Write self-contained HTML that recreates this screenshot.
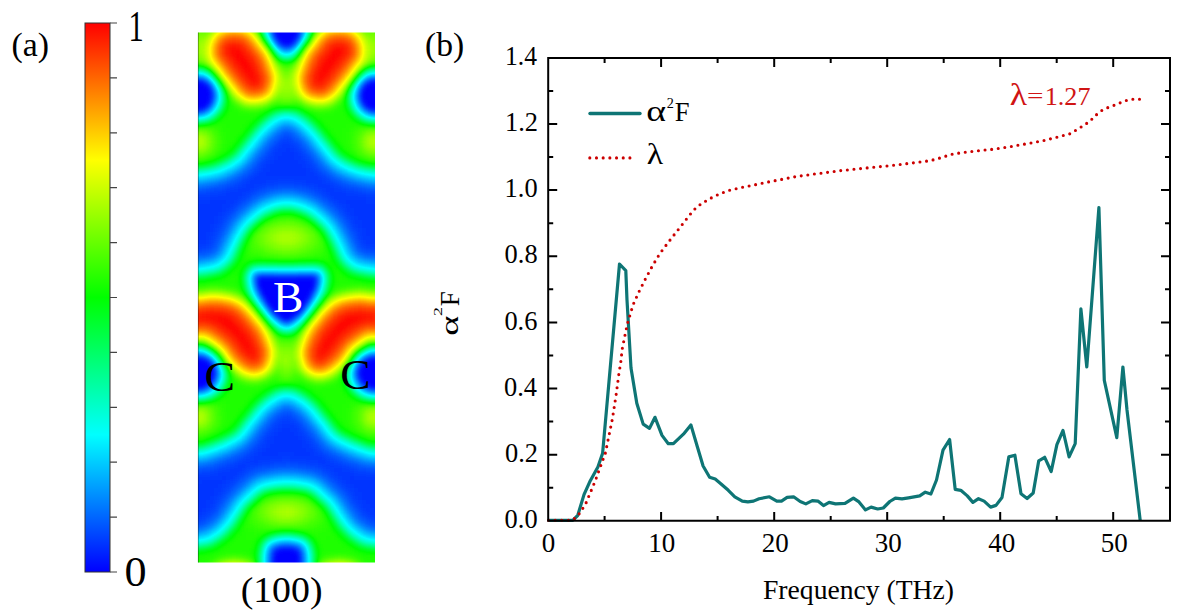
<!DOCTYPE html>
<html><head><meta charset="utf-8"><style>
html,body{margin:0;padding:0;background:#fff;overflow:hidden;}
svg{display:block;}
text{font-family:"Liberation Serif",serif;fill:#000;}
</style></head><body>
<svg width="1179" height="616" viewBox="0 0 1179 616">
<defs>
<linearGradient id="cb" x1="0" y1="1" x2="0" y2="0">
<stop offset="0" stop-color="#0000ff"/><stop offset="0.25" stop-color="#00ffff"/><stop offset="0.5" stop-color="#00ff00"/><stop offset="0.75" stop-color="#ffff00"/><stop offset="1" stop-color="#ff0000"/>
</linearGradient>
<filter id="hb" x="180" y="15" width="215" height="565" filterUnits="userSpaceOnUse" color-interpolation-filters="sRGB"><feGaussianBlur stdDeviation="2"/><feComponentTransfer><feFuncR type="table" tableValues="0 0 0 1 1"/><feFuncG type="table" tableValues="0 1 1 1 0"/><feFuncB type="table" tableValues="1 1 0 0 0"/></feComponentTransfer></filter>
<clipPath id="hc"><rect x="198" y="32.5" width="177" height="530"/></clipPath>
</defs>
<rect width="1179" height="616" fill="#fff"/>
<rect x="85" y="23" width="25" height="549" fill="url(#cb)" stroke="#333" stroke-width="1"/>
<path d="M110,23.0h7M110,77.9h7M110,132.8h7M110,187.7h7M110,242.6h7M110,297.5h7M110,352.4h7M110,407.3h7M110,462.2h7M110,517.1h7M110,572.0h7" stroke="#444" stroke-width="1.2" fill="none"/>
<g clip-path="url(#hc)"><g filter="url(#hb)" shape-rendering="crispEdges"><path fill="#000000" d="M278 24h20v4h-20zM278 28h20v4h-20zM278 32h20v4h-20zM278 36h16v4h-16zM282 40h8v4h-8zM190 84h16v4h-16zM366 84h16v4h-16zM190 88h20v4h-20zM366 88h20v4h-20zM190 92h20v4h-20zM362 92h24v4h-24zM190 96h20v4h-20zM362 96h24v4h-24zM190 100h20v4h-20zM366 100h20v4h-20zM190 104h16v4h-16zM366 104h16v4h-16zM258 280h56v4h-56zM262 284h52v4h-52zM262 288h48v4h-48zM262 292h48v4h-48zM266 296h40v4h-40zM270 300h36v4h-36zM270 304h32v4h-32zM274 308h24v4h-24zM278 312h16v4h-16zM282 316h8v4h-8zM190 360h16v4h-16zM366 360h16v4h-16zM190 364h20v4h-20zM362 364h24v4h-24zM190 368h24v4h-24zM362 368h24v4h-24zM190 372h24v4h-24zM362 372h24v4h-24zM190 376h20v4h-20zM362 376h24v4h-24zM190 380h20v4h-20zM366 380h20v4h-20zM194 384h8v4h-8zM370 384h8v4h-8zM278 552h20v4h-20zM274 556h24v4h-24zM274 560h24v4h-24zM274 564h24v4h-24zM274 568h24v4h-24z"/><path fill="#010101" d="M258 284h4v4h-4zM362 380h4v4h-4zM378 384h4v4h-4z"/><path fill="#020202" d="M274 28h4v4h-4zM290 40h4v4h-4zM362 88h4v4h-4zM266 300h4v4h-4zM382 360h4v4h-4zM210 376h4v4h-4zM282 548h8v4h-8zM274 552h4v4h-4z"/><path fill="#030303" d="M198 80h4v4h-4zM374 80h4v4h-4zM382 84h4v4h-4zM362 100h4v4h-4zM262 276h12v4h-12zM298 276h12v4h-12zM310 288h4v4h-4zM306 296h4v4h-4zM294 312h4v4h-4zM358 372h4v4h-4zM202 384h4v4h-4zM290 548h4v4h-4z"/><path fill="#040404" d="M274 24h4v4h-4zM274 32h4v4h-4zM194 80h4v4h-4zM274 276h24v4h-24zM310 276h4v4h-4zM298 308h4v4h-4zM190 384h4v4h-4zM278 548h4v4h-4z"/><path fill="#050505" d="M370 80h4v4h-4zM258 276h4v4h-4zM358 368h4v4h-4z"/><path fill="#060606" d="M294 36h4v4h-4zM278 40h4v4h-4zM382 104h4v4h-4zM206 360h4v4h-4zM366 384h4v4h-4z"/><path fill="#070707" d="M206 84h4v4h-4zM198 108h4v4h-4zM374 108h4v4h-4z"/><path fill="#080808" d="M378 80h4v4h-4zM194 108h4v4h-4zM302 304h4v4h-4zM274 312h4v4h-4zM290 316h4v4h-4zM374 356h4v4h-4zM210 364h4v4h-4zM358 376h4v4h-4zM294 548h4v4h-4zM298 568h4v4h-4z"/><path fill="#090909" d="M370 108h4v4h-4zM258 288h4v4h-4zM194 356h8v4h-8zM298 560h4v4h-4zM298 564h4v4h-4z"/><path fill="#0a0a0a" d="M286 44h4v4h-4zM210 92h4v4h-4zM206 104h4v4h-4zM262 296h4v4h-4zM270 308h4v4h-4zM370 356h4v4h-4zM362 360h4v4h-4zM382 384h4v4h-4zM274 548h4v4h-4zM298 556h4v4h-4z"/><path fill="#0b0b0b" d="M202 80h4v4h-4zM210 96h4v4h-4z"/><path fill="#0c0c0c" d="M274 36h4v4h-4zM282 44h4v4h-4zM190 80h4v4h-4zM378 108h4v4h-4zM314 280h4v4h-4zM298 552h4v4h-4z"/><path fill="#0d0d0d" d="M362 84h4v4h-4zM286 148h4v4h-4zM282 152h12v4h-12zM278 156h16v4h-16zM274 160h24v4h-24zM270 164h32v4h-32zM270 168h36v4h-36zM266 172h40v4h-40zM210 200h16v4h-16zM346 200h20v4h-20zM190 204h32v4h-32zM350 204h36v4h-36zM190 208h32v4h-32zM354 208h32v4h-32zM190 212h28v4h-28zM354 212h32v4h-32zM190 216h24v4h-24zM358 216h28v4h-28zM190 220h24v4h-24zM362 220h24v4h-24zM190 224h20v4h-20zM362 224h24v4h-24zM190 228h20v4h-20zM366 228h20v4h-20zM190 232h16v4h-16zM366 232h20v4h-20zM190 236h16v4h-16zM370 236h16v4h-16zM382 240h4v4h-4zM278 316h4v4h-4zM378 356h4v4h-4zM210 380h4v4h-4zM282 428h8v4h-8zM278 432h16v4h-16zM274 436h24v4h-24zM274 440h28v4h-28zM270 444h32v4h-32zM266 448h40v4h-40zM262 452h16v4h-16zM294 452h16v4h-16zM222 476h4v4h-4zM350 476h4v4h-4zM190 480h8v4h-8zM202 480h20v4h-20zM350 480h24v4h-24zM378 480h8v4h-8zM190 484h28v4h-28zM354 484h32v4h-32zM190 488h24v4h-24zM358 488h28v4h-28zM190 492h24v4h-24zM362 492h24v4h-24zM190 496h20v4h-20zM362 496h24v4h-24zM190 500h16v4h-16zM366 500h20v4h-20zM190 504h16v4h-16zM370 504h16v4h-16zM190 508h12v4h-12zM374 508h12v4h-12z"/><path fill="#0e0e0e" d="M282 144h8v4h-8zM278 148h8v4h-8zM290 148h4v4h-4zM274 152h8v4h-8zM294 152h4v4h-4zM274 156h4v4h-4zM294 156h8v4h-8zM270 160h4v4h-4zM298 160h8v4h-8zM266 164h4v4h-4zM302 164h4v4h-4zM262 168h8v4h-8zM306 168h4v4h-4zM258 172h8v4h-8zM306 172h8v4h-8zM254 176h64v4h-64zM250 180h16v4h-16zM306 180h16v4h-16zM246 184h8v4h-8zM318 184h12v4h-12zM238 188h12v4h-12zM326 188h8v4h-8zM226 192h16v4h-16zM330 192h16v4h-16zM210 196h28v4h-28zM334 196h32v4h-32zM382 196h4v4h-4zM190 200h20v4h-20zM226 200h8v4h-8zM338 200h8v4h-8zM366 200h20v4h-20zM222 204h8v4h-8zM346 204h4v4h-4zM222 208h4v4h-4zM346 208h8v4h-8zM218 212h4v4h-4zM350 212h4v4h-4zM214 216h4v4h-4zM354 216h4v4h-4zM214 220h4v4h-4zM354 220h8v4h-8zM210 224h4v4h-4zM358 224h4v4h-4zM210 228h4v4h-4zM362 228h4v4h-4zM206 232h4v4h-4zM362 232h4v4h-4zM206 236h4v4h-4zM362 236h8v4h-8zM190 240h16v4h-16zM366 240h16v4h-16zM190 244h4v4h-4zM382 244h4v4h-4zM314 276h4v4h-4zM310 292h4v4h-4zM206 384h4v4h-4zM282 424h12v4h-12zM278 428h4v4h-4zM290 428h8v4h-8zM274 432h4v4h-4zM294 432h4v4h-4zM270 436h4v4h-4zM298 436h4v4h-4zM266 440h8v4h-8zM302 440h4v4h-4zM266 444h4v4h-4zM302 444h8v4h-8zM262 448h4v4h-4zM306 448h8v4h-8zM258 452h4v4h-4zM278 452h16v4h-16zM310 452h4v4h-4zM254 456h28v4h-28zM290 456h32v4h-32zM246 460h12v4h-12zM318 460h8v4h-8zM238 464h8v4h-8zM326 464h8v4h-8zM230 468h12v4h-12zM334 468h8v4h-8zM218 472h20v4h-20zM338 472h16v4h-16zM190 476h32v4h-32zM226 476h8v4h-8zM342 476h8v4h-8zM354 476h32v4h-32zM198 480h4v4h-4zM222 480h4v4h-4zM346 480h4v4h-4zM374 480h4v4h-4zM218 484h4v4h-4zM350 484h4v4h-4zM214 488h8v4h-8zM354 488h4v4h-4zM214 492h4v4h-4zM354 492h8v4h-8zM210 496h4v4h-4zM358 496h4v4h-4zM206 500h8v4h-8zM362 500h4v4h-4zM206 504h4v4h-4zM362 504h8v4h-8zM202 508h4v4h-4zM366 508h8v4h-8zM190 512h12v4h-12zM370 512h16v4h-16zM382 516h4v4h-4zM270 564h4v4h-4zM270 568h4v4h-4z"/><path fill="#0f0f0f" d="M366 80h4v4h-4zM362 104h4v4h-4zM202 108h4v4h-4zM282 140h8v4h-8zM278 144h4v4h-4zM290 144h4v4h-4zM274 148h4v4h-4zM294 148h4v4h-4zM298 152h4v4h-4zM270 156h4v4h-4zM266 160h4v4h-4zM262 164h4v4h-4zM306 164h4v4h-4zM310 168h4v4h-4zM314 172h4v4h-4zM250 176h4v4h-4zM318 176h4v4h-4zM246 180h4v4h-4zM266 180h12v4h-12zM294 180h12v4h-12zM322 180h4v4h-4zM242 184h4v4h-4zM254 184h8v4h-8zM314 184h4v4h-4zM330 184h4v4h-4zM230 188h8v4h-8zM250 188h4v4h-4zM322 188h4v4h-4zM334 188h8v4h-8zM218 192h8v4h-8zM242 192h4v4h-4zM326 192h4v4h-4zM346 192h12v4h-12zM190 196h20v4h-20zM238 196h4v4h-4zM330 196h4v4h-4zM366 196h16v4h-16zM234 200h4v4h-4zM230 204h4v4h-4zM342 204h4v4h-4zM226 208h4v4h-4zM222 212h4v4h-4zM346 212h4v4h-4zM218 216h4v4h-4zM350 216h4v4h-4zM218 220h4v4h-4zM214 224h4v4h-4zM354 224h4v4h-4zM358 228h4v4h-4zM210 232h4v4h-4zM358 232h4v4h-4zM206 240h4v4h-4zM362 240h4v4h-4zM194 244h12v4h-12zM366 244h16v4h-16zM202 356h4v4h-4zM358 364h4v4h-4zM282 420h8v4h-8zM278 424h4v4h-4zM294 424h4v4h-4zM274 428h4v4h-4zM270 432h4v4h-4zM298 432h4v4h-4zM266 436h4v4h-4zM302 436h4v4h-4zM306 440h4v4h-4zM262 444h4v4h-4zM258 448h4v4h-4zM254 452h4v4h-4zM314 452h4v4h-4zM250 456h4v4h-4zM282 456h8v4h-8zM322 456h4v4h-4zM242 460h4v4h-4zM258 460h12v4h-12zM306 460h12v4h-12zM326 460h4v4h-4zM234 464h4v4h-4zM246 464h4v4h-4zM322 464h4v4h-4zM334 464h8v4h-8zM222 468h8v4h-8zM242 468h4v4h-4zM330 468h4v4h-4zM342 468h8v4h-8zM210 472h8v4h-8zM334 472h4v4h-4zM354 472h12v4h-12zM338 476h4v4h-4zM226 480h4v4h-4zM342 480h4v4h-4zM222 484h4v4h-4zM346 484h4v4h-4zM350 488h4v4h-4zM218 492h4v4h-4zM214 496h4v4h-4zM354 496h4v4h-4zM358 500h4v4h-4zM210 504h4v4h-4zM206 508h4v4h-4zM362 508h4v4h-4zM202 512h4v4h-4zM366 512h4v4h-4zM190 516h8v4h-8zM374 516h8v4h-8zM270 560h4v4h-4z"/><path fill="#101010" d="M298 28h4v4h-4zM210 88h4v4h-4zM190 108h4v4h-4zM294 144h4v4h-4zM270 152h4v4h-4zM266 156h4v4h-4zM302 156h4v4h-4zM262 160h4v4h-4zM306 160h4v4h-4zM310 164h4v4h-4zM258 168h4v4h-4zM254 172h4v4h-4zM322 176h4v4h-4zM242 180h4v4h-4zM278 180h16v4h-16zM326 180h4v4h-4zM238 184h4v4h-4zM262 184h4v4h-4zM306 184h8v4h-8zM334 184h4v4h-4zM226 188h4v4h-4zM254 188h4v4h-4zM318 188h4v4h-4zM342 188h4v4h-4zM210 192h8v4h-8zM246 192h4v4h-4zM322 192h4v4h-4zM358 192h8v4h-8zM382 192h4v4h-4zM242 196h4v4h-4zM334 200h4v4h-4zM338 204h4v4h-4zM342 208h4v4h-4zM222 216h4v4h-4zM350 220h4v4h-4zM214 228h4v4h-4zM354 228h4v4h-4zM210 236h4v4h-4zM358 236h4v4h-4zM206 244h4v4h-4zM362 244h4v4h-4zM190 248h4v4h-4zM382 248h4v4h-4zM266 304h4v4h-4zM190 356h4v4h-4zM286 416h4v4h-4zM278 420h4v4h-4zM290 420h4v4h-4zM274 424h4v4h-4zM270 428h4v4h-4zM298 428h4v4h-4zM302 432h4v4h-4zM262 440h4v4h-4zM258 444h4v4h-4zM310 444h4v4h-4zM254 448h4v4h-4zM314 448h4v4h-4zM250 452h4v4h-4zM318 452h4v4h-4zM246 456h4v4h-4zM238 460h4v4h-4zM270 460h12v4h-12zM290 460h16v4h-16zM330 460h4v4h-4zM230 464h4v4h-4zM250 464h8v4h-8zM318 464h4v4h-4zM342 464h4v4h-4zM218 468h4v4h-4zM326 468h4v4h-4zM350 468h4v4h-4zM190 472h20v4h-20zM238 472h4v4h-4zM330 472h4v4h-4zM366 472h20v4h-20zM234 476h4v4h-4zM334 476h4v4h-4zM230 480h4v4h-4zM338 480h4v4h-4zM226 484h4v4h-4zM342 484h4v4h-4zM222 488h4v4h-4zM346 488h4v4h-4zM350 492h4v4h-4zM214 500h4v4h-4zM354 500h4v4h-4zM358 504h4v4h-4zM210 508h4v4h-4zM206 512h4v4h-4zM198 516h4v4h-4zM370 516h4v4h-4zM382 520h4v4h-4zM270 556h4v4h-4z"/><path fill="#111111" d="M286 136h4v4h-4zM278 140h4v4h-4zM290 140h4v4h-4zM274 144h4v4h-4zM270 148h4v4h-4zM298 148h4v4h-4zM302 152h4v4h-4zM258 164h4v4h-4zM314 168h4v4h-4zM318 172h4v4h-4zM246 176h4v4h-4zM330 180h4v4h-4zM234 184h4v4h-4zM266 184h8v4h-8zM302 184h4v4h-4zM338 184h4v4h-4zM222 188h4v4h-4zM314 188h4v4h-4zM346 188h8v4h-8zM190 192h20v4h-20zM366 192h16v4h-16zM326 196h4v4h-4zM238 200h4v4h-4zM330 200h4v4h-4zM234 204h4v4h-4zM230 208h4v4h-4zM226 212h4v4h-4zM342 212h4v4h-4zM346 216h4v4h-4zM218 224h4v4h-4zM350 224h4v4h-4zM214 232h4v4h-4zM210 240h4v4h-4zM358 240h4v4h-4zM194 248h8v4h-8zM370 248h12v4h-12zM314 284h4v4h-4zM306 300h4v4h-4zM282 416h4v4h-4zM294 420h4v4h-4zM298 424h4v4h-4zM266 432h4v4h-4zM262 436h4v4h-4zM306 436h4v4h-4zM310 440h4v4h-4zM322 452h4v4h-4zM242 456h4v4h-4zM326 456h4v4h-4zM234 460h4v4h-4zM282 460h8v4h-8zM334 460h4v4h-4zM226 464h4v4h-4zM258 464h4v4h-4zM310 464h8v4h-8zM346 464h4v4h-4zM214 468h4v4h-4zM246 468h4v4h-4zM322 468h4v4h-4zM354 468h4v4h-4zM242 472h4v4h-4zM222 492h4v4h-4zM218 496h4v4h-4zM350 496h4v4h-4zM214 504h4v4h-4zM358 508h4v4h-4zM362 512h4v4h-4zM202 516h4v4h-4zM366 516h4v4h-4zM190 520h8v4h-8zM378 520h4v4h-4z"/><path fill="#121212" d="M294 40h4v4h-4zM358 92h4v4h-4zM358 96h4v4h-4zM210 100h4v4h-4zM282 136h4v4h-4zM266 152h4v4h-4zM306 156h4v4h-4zM310 160h4v4h-4zM254 168h4v4h-4zM250 172h4v4h-4zM326 176h4v4h-4zM238 180h4v4h-4zM230 184h4v4h-4zM274 184h4v4h-4zM294 184h8v4h-8zM214 188h8v4h-8zM258 188h4v4h-4zM310 188h4v4h-4zM354 188h4v4h-4zM250 192h4v4h-4zM318 192h4v4h-4zM246 196h4v4h-4zM334 204h4v4h-4zM338 208h4v4h-4zM222 220h4v4h-4zM218 228h4v4h-4zM354 232h4v4h-4zM214 236h4v4h-4zM210 244h4v4h-4zM202 248h4v4h-4zM366 248h4v4h-4zM366 356h4v4h-4zM278 416h4v4h-4zM290 416h4v4h-4zM274 420h4v4h-4zM270 424h4v4h-4zM302 428h4v4h-4zM258 440h4v4h-4zM314 444h4v4h-4zM318 448h4v4h-4zM246 452h4v4h-4zM330 456h4v4h-4zM338 460h4v4h-4zM222 464h4v4h-4zM262 464h8v4h-8zM306 464h4v4h-4zM210 468h4v4h-4zM250 468h4v4h-4zM358 468h8v4h-8zM326 472h4v4h-4zM238 476h4v4h-4zM330 476h4v4h-4zM234 480h4v4h-4zM230 484h4v4h-4zM226 488h4v4h-4zM346 492h4v4h-4zM218 500h4v4h-4zM354 504h4v4h-4zM198 520h4v4h-4zM374 520h4v4h-4zM270 552h4v4h-4z"/><path fill="#131313" d="M298 24h4v4h-4zM298 32h4v4h-4zM290 44h4v4h-4zM366 108h4v4h-4zM290 136h4v4h-4zM294 140h4v4h-4zM298 144h4v4h-4zM262 156h4v4h-4zM258 160h4v4h-4zM314 164h4v4h-4zM322 172h4v4h-4zM242 176h4v4h-4zM334 180h4v4h-4zM226 184h4v4h-4zM278 184h16v4h-16zM342 184h4v4h-4zM210 188h4v4h-4zM262 188h4v4h-4zM358 188h4v4h-4zM322 196h4v4h-4zM242 200h4v4h-4zM230 212h4v4h-4zM226 216h4v4h-4zM346 220h4v4h-4zM350 228h4v4h-4zM354 236h4v4h-4zM358 244h4v4h-4zM206 248h4v4h-4zM362 248h4v4h-4zM382 252h4v4h-4zM214 372h4v4h-4zM362 384h4v4h-4zM198 388h4v4h-4zM374 388h4v4h-4zM286 412h4v4h-4zM266 428h4v4h-4zM306 432h4v4h-4zM310 436h4v4h-4zM254 444h4v4h-4zM250 448h4v4h-4zM238 456h4v4h-4zM230 460h4v4h-4zM218 464h4v4h-4zM270 464h4v4h-4zM298 464h8v4h-8zM350 464h4v4h-4zM190 468h4v4h-4zM202 468h8v4h-8zM318 468h4v4h-4zM366 468h4v4h-4zM382 468h4v4h-4zM334 480h4v4h-4zM338 484h4v4h-4zM342 488h4v4h-4zM350 500h4v4h-4zM214 508h4v4h-4zM210 512h4v4h-4zM206 516h4v4h-4zM370 520h4v4h-4z"/><path fill="#141414" d="M278 136h4v4h-4zM274 140h4v4h-4zM270 144h4v4h-4zM302 148h4v4h-4zM306 152h4v4h-4zM254 164h4v4h-4zM318 168h4v4h-4zM246 172h4v4h-4zM234 180h4v4h-4zM346 184h4v4h-4zM206 188h4v4h-4zM306 188h4v4h-4zM362 188h4v4h-4zM382 188h4v4h-4zM254 192h4v4h-4zM314 192h4v4h-4zM326 200h4v4h-4zM238 204h4v4h-4zM234 208h4v4h-4zM342 216h4v4h-4zM222 224h4v4h-4zM218 232h4v4h-4zM214 240h4v4h-4zM190 252h4v4h-4zM378 252h4v4h-4zM286 320h4v4h-4zM358 380h4v4h-4zM194 388h4v4h-4zM282 412h4v4h-4zM294 416h4v4h-4zM298 420h4v4h-4zM262 432h4v4h-4zM314 440h4v4h-4zM326 452h4v4h-4zM334 456h4v4h-4zM226 460h4v4h-4zM342 460h4v4h-4zM274 464h12v4h-12zM290 464h8v4h-8zM354 464h4v4h-4zM194 468h8v4h-8zM254 468h4v4h-4zM314 468h4v4h-4zM370 468h12v4h-12zM246 472h4v4h-4zM322 472h4v4h-4zM242 476h4v4h-4zM226 492h4v4h-4zM222 496h4v4h-4zM358 512h4v4h-4zM362 516h4v4h-4zM202 520h4v4h-4zM382 524h4v4h-4zM282 544h8v4h-8zM298 548h4v4h-4z"/><path fill="#151515" d="M382 80h4v4h-4zM282 132h8v4h-8zM266 148h4v4h-4zM310 156h4v4h-4zM250 168h4v4h-4zM330 176h4v4h-4zM338 180h4v4h-4zM222 184h4v4h-4zM190 188h4v4h-4zM202 188h4v4h-4zM266 188h4v4h-4zM302 188h4v4h-4zM366 188h4v4h-4zM378 188h4v4h-4zM250 196h4v4h-4zM330 204h4v4h-4zM334 208h4v4h-4zM338 212h4v4h-4zM346 224h4v4h-4zM354 240h4v4h-4zM210 248h4v4h-4zM194 252h4v4h-4zM374 252h4v4h-4zM254 276h4v4h-4zM254 280h4v4h-4zM258 292h4v4h-4zM370 388h4v4h-4zM290 412h4v4h-4zM274 416h4v4h-4zM270 420h4v4h-4zM302 424h4v4h-4zM258 436h4v4h-4zM318 444h4v4h-4zM322 448h4v4h-4zM242 452h4v4h-4zM234 456h4v4h-4zM214 464h4v4h-4zM286 464h4v4h-4zM258 468h4v4h-4zM326 476h4v4h-4zM238 480h4v4h-4zM234 484h4v4h-4zM230 488h4v4h-4zM346 496h4v4h-4zM218 504h4v4h-4zM354 508h4v4h-4zM366 520h4v4h-4zM190 524h4v4h-4zM378 524h4v4h-4z"/><path fill="#161616" d="M298 140h4v4h-4zM262 152h4v4h-4zM314 160h4v4h-4zM326 172h4v4h-4zM238 176h4v4h-4zM230 180h4v4h-4zM218 184h4v4h-4zM350 184h4v4h-4zM194 188h8v4h-8zM270 188h4v4h-4zM298 188h4v4h-4zM370 188h8v4h-8zM258 192h4v4h-4zM318 196h4v4h-4zM246 200h4v4h-4zM226 220h4v4h-4zM222 228h4v4h-4zM350 232h4v4h-4zM218 236h4v4h-4zM214 244h4v4h-4zM358 248h4v4h-4zM198 252h8v4h-8zM370 252h4v4h-4zM298 312h4v4h-4zM214 368h4v4h-4zM278 412h4v4h-4zM266 424h4v4h-4zM306 428h4v4h-4zM254 440h4v4h-4zM250 444h4v4h-4zM246 448h4v4h-4zM330 452h4v4h-4zM338 456h4v4h-4zM222 460h4v4h-4zM346 460h4v4h-4zM358 464h4v4h-4zM262 468h4v4h-4zM310 468h4v4h-4zM250 472h4v4h-4zM330 480h4v4h-4zM334 484h4v4h-4zM338 488h4v4h-4zM342 492h4v4h-4zM222 500h4v4h-4zM350 504h4v4h-4zM214 512h4v4h-4zM210 516h4v4h-4zM194 524h4v4h-4zM374 524h4v4h-4zM290 544h4v4h-4z"/><path fill="#171717" d="M290 132h4v4h-4zM294 136h4v4h-4zM302 144h4v4h-4zM258 156h4v4h-4zM318 164h4v4h-4zM322 168h4v4h-4zM354 184h4v4h-4zM274 188h4v4h-4zM310 192h4v4h-4zM242 204h4v4h-4zM230 216h4v4h-4zM342 220h4v4h-4zM366 252h4v4h-4zM282 320h4v4h-4zM382 356h4v4h-4zM210 360h4v4h-4zM262 428h4v4h-4zM310 432h4v4h-4zM238 452h4v4h-4zM230 456h4v4h-4zM210 464h4v4h-4zM306 468h4v4h-4zM318 472h4v4h-4zM358 516h4v4h-4zM206 520h4v4h-4zM198 524h4v4h-4zM370 524h4v4h-4zM278 544h4v4h-4z"/><path fill="#181818" d="M270 28h4v4h-4zM278 44h4v4h-4zM274 136h4v4h-4zM270 140h4v4h-4zM306 148h4v4h-4zM254 160h4v4h-4zM242 172h4v4h-4zM334 176h4v4h-4zM342 180h4v4h-4zM214 184h4v4h-4zM278 188h4v4h-4zM294 188h4v4h-4zM262 192h4v4h-4zM322 200h4v4h-4zM238 208h4v4h-4zM234 212h4v4h-4zM346 228h4v4h-4zM350 236h4v4h-4zM354 244h4v4h-4zM206 252h4v4h-4zM362 252h4v4h-4zM378 388h4v4h-4zM286 408h4v4h-4zM298 416h4v4h-4zM258 432h4v4h-4zM314 436h4v4h-4zM350 460h4v4h-4zM206 464h4v4h-4zM362 464h4v4h-4zM382 464h4v4h-4zM266 468h4v4h-4zM302 468h4v4h-4zM246 476h4v4h-4zM226 496h4v4h-4zM346 500h4v4h-4zM218 508h4v4h-4zM354 512h4v4h-4zM362 520h4v4h-4z"/><path fill="#191919" d="M274 40h4v4h-4zM358 88h4v4h-4zM382 108h4v4h-4zM278 132h4v4h-4zM266 144h4v4h-4zM310 152h4v4h-4zM250 164h4v4h-4zM246 168h4v4h-4zM234 176h4v4h-4zM226 180h4v4h-4zM210 184h4v4h-4zM358 184h4v4h-4zM282 188h12v4h-12zM306 192h4v4h-4zM254 196h4v4h-4zM326 204h4v4h-4zM330 208h4v4h-4zM334 212h4v4h-4zM338 216h4v4h-4zM226 224h4v4h-4zM218 240h4v4h-4zM214 248h4v4h-4zM382 256h4v4h-4zM262 300h4v4h-4zM294 316h4v4h-4zM214 376h4v4h-4zM282 408h4v4h-4zM294 412h4v4h-4zM302 420h4v4h-4zM318 440h4v4h-4zM326 448h4v4h-4zM342 456h4v4h-4zM218 460h4v4h-4zM190 464h4v4h-4zM202 464h4v4h-4zM366 464h4v4h-4zM270 468h4v4h-4zM298 468h4v4h-4zM254 472h4v4h-4zM242 480h4v4h-4zM238 484h4v4h-4zM230 492h4v4h-4zM202 524h4v4h-4zM270 548h4v4h-4z"/><path fill="#1a1a1a" d="M270 24h4v4h-4zM206 80h4v4h-4zM358 100h4v4h-4zM262 148h4v4h-4zM362 184h4v4h-4zM382 184h4v4h-4zM314 196h4v4h-4zM222 232h4v4h-4zM210 252h4v4h-4zM302 308h4v4h-4zM202 388h4v4h-4zM270 416h4v4h-4zM306 424h4v4h-4zM254 436h4v4h-4zM322 444h4v4h-4zM242 448h4v4h-4zM334 452h4v4h-4zM226 456h4v4h-4zM354 460h4v4h-4zM370 464h4v4h-4zM378 464h4v4h-4zM274 468h4v4h-4zM294 468h4v4h-4zM314 472h4v4h-4zM322 476h4v4h-4zM234 488h4v4h-4zM342 496h4v4h-4zM222 504h4v4h-4zM350 508h4v4h-4zM366 524h4v4h-4z"/><path fill="#1b1b1b" d="M270 32h4v4h-4zM282 128h8v4h-8zM258 152h4v4h-4zM314 156h4v4h-4zM330 172h4v4h-4zM346 180h4v4h-4zM206 184h4v4h-4zM266 192h4v4h-4zM250 200h4v4h-4zM230 220h4v4h-4zM342 224h4v4h-4zM354 248h4v4h-4zM190 256h4v4h-4zM378 256h4v4h-4zM254 284h4v4h-4zM314 288h4v4h-4zM310 296h4v4h-4zM190 388h4v4h-4zM290 408h4v4h-4zM274 412h4v4h-4zM266 420h4v4h-4zM310 428h4v4h-4zM250 440h4v4h-4zM246 444h4v4h-4zM234 452h4v4h-4zM214 460h4v4h-4zM194 464h8v4h-8zM374 464h4v4h-4zM278 468h16v4h-16zM326 480h4v4h-4zM330 484h4v4h-4zM334 488h4v4h-4zM338 492h4v4h-4zM214 516h4v4h-4zM210 520h4v4h-4zM382 528h4v4h-4zM294 544h4v4h-4z"/><path fill="#1c1c1c" d="M298 36h4v4h-4zM374 76h4v4h-4zM294 132h4v4h-4zM298 136h4v4h-4zM302 140h4v4h-4zM318 160h4v4h-4zM326 168h4v4h-4zM238 172h4v4h-4zM338 176h4v4h-4zM222 180h4v4h-4zM190 184h4v4h-4zM202 184h4v4h-4zM366 184h4v4h-4zM378 184h4v4h-4zM302 192h4v4h-4zM258 196h4v4h-4zM318 200h4v4h-4zM246 204h4v4h-4zM346 232h4v4h-4zM350 240h4v4h-4zM358 252h4v4h-4zM194 256h4v4h-4zM206 356h4v4h-4zM354 372h4v4h-4zM262 424h4v4h-4zM346 456h4v4h-4zM258 472h4v4h-4zM346 504h4v4h-4zM218 512h4v4h-4zM190 528h4v4h-4z"/><path fill="#1d1d1d" d="M194 76h8v4h-8zM210 84h4v4h-4zM206 108h4v4h-4zM306 144h4v4h-4zM254 156h4v4h-4zM322 164h4v4h-4zM230 176h4v4h-4zM350 180h4v4h-4zM194 184h8v4h-8zM370 184h4v4h-4zM242 208h4v4h-4zM234 216h4v4h-4zM226 228h4v4h-4zM222 236h4v4h-4zM218 244h4v4h-4zM198 256h4v4h-4zM370 256h8v4h-8zM270 312h4v4h-4zM278 408h4v4h-4zM258 428h4v4h-4zM314 432h4v4h-4zM330 448h4v4h-4zM338 452h4v4h-4zM222 456h4v4h-4zM358 460h4v4h-4zM310 472h4v4h-4zM250 476h4v4h-4zM226 500h4v4h-4zM354 516h4v4h-4zM358 520h4v4h-4zM206 524h4v4h-4zM378 528h4v4h-4z"/><path fill="#1e1e1e" d="M370 76h4v4h-4zM290 128h4v4h-4zM274 132h4v4h-4zM270 136h4v4h-4zM266 140h4v4h-4zM242 168h4v4h-4zM218 180h4v4h-4zM374 184h4v4h-4zM270 192h4v4h-4zM298 192h4v4h-4zM310 196h4v4h-4zM322 204h4v4h-4zM238 212h4v4h-4zM338 220h4v4h-4zM202 256h4v4h-4zM366 388h4v4h-4zM302 416h4v4h-4zM210 460h4v4h-4zM262 472h4v4h-4zM318 476h4v4h-4zM194 528h4v4h-4zM374 528h4v4h-4zM274 544h4v4h-4z"/><path fill="#1f1f1f" d="M210 104h4v4h-4zM310 148h4v4h-4zM250 160h4v4h-4zM246 164h4v4h-4zM326 208h4v4h-4zM334 216h4v4h-4zM350 244h4v4h-4zM214 252h4v4h-4zM366 256h4v4h-4zM262 272h12v4h-12zM298 272h16v4h-16zM274 316h4v4h-4zM358 360h4v4h-4zM354 368h4v4h-4zM210 384h4v4h-4zM298 412h4v4h-4zM254 432h4v4h-4zM318 436h4v4h-4zM238 448h4v4h-4zM230 452h4v4h-4zM306 472h4v4h-4zM246 480h4v4h-4zM242 484h4v4h-4zM230 496h4v4h-4zM342 500h4v4h-4zM222 508h4v4h-4zM350 512h4v4h-4zM362 524h4v4h-4zM198 528h4v4h-4zM302 564h4v4h-4zM302 568h4v4h-4z"/><path fill="#202020" d="M362 80h4v4h-4zM278 128h4v4h-4zM262 144h4v4h-4zM314 152h4v4h-4zM334 172h4v4h-4zM342 176h4v4h-4zM354 180h4v4h-4zM274 192h4v4h-4zM294 192h4v4h-4zM262 196h4v4h-4zM254 200h4v4h-4zM330 212h4v4h-4zM342 228h4v4h-4zM346 236h4v4h-4zM206 256h4v4h-4zM258 272h4v4h-4zM274 272h4v4h-4zM286 404h4v4h-4zM294 408h4v4h-4zM306 420h4v4h-4zM322 440h4v4h-4zM326 444h4v4h-4zM350 456h4v4h-4zM362 460h4v4h-4zM266 472h4v4h-4zM238 488h4v4h-4zM234 492h4v4h-4zM370 528h4v4h-4zM302 560h4v4h-4z"/><path fill="#212121" d="M378 76h4v4h-4zM258 148h4v4h-4zM234 172h4v4h-4zM226 176h4v4h-4zM214 180h4v4h-4zM230 224h4v4h-4zM218 248h4v4h-4zM362 256h4v4h-4zM278 272h20v4h-20zM290 320h4v4h-4zM362 356h4v4h-4zM214 364h4v4h-4zM354 376h4v4h-4zM282 404h4v4h-4zM270 412h4v4h-4zM266 416h4v4h-4zM310 424h4v4h-4zM250 436h4v4h-4zM342 452h4v4h-4zM218 456h4v4h-4zM206 460h4v4h-4zM382 460h4v4h-4zM302 472h4v4h-4zM322 480h4v4h-4zM326 484h4v4h-4zM302 556h4v4h-4z"/><path fill="#222222" d="M286 48h4v4h-4zM198 112h4v4h-4zM374 112h4v4h-4zM318 156h4v4h-4zM358 180h4v4h-4zM278 192h4v4h-4zM290 192h4v4h-4zM306 196h4v4h-4zM314 200h4v4h-4zM226 232h4v4h-4zM222 240h4v4h-4zM354 252h4v4h-4zM306 304h4v4h-4zM266 308h4v4h-4zM274 408h4v4h-4zM262 420h4v4h-4zM242 444h4v4h-4zM334 448h4v4h-4zM366 460h4v4h-4zM270 472h4v4h-4zM254 476h4v4h-4zM330 488h4v4h-4zM338 496h4v4h-4zM226 504h4v4h-4zM346 508h4v4h-4zM214 520h4v4h-4zM202 528h4v4h-4z"/><path fill="#232323" d="M362 108h4v4h-4zM194 112h4v4h-4zM298 132h4v4h-4zM302 136h4v4h-4zM254 152h4v4h-4zM330 168h4v4h-4zM210 180h4v4h-4zM282 192h8v4h-8zM250 204h4v4h-4zM338 224h4v4h-4zM210 256h4v4h-4zM382 260h4v4h-4zM314 272h4v4h-4zM382 388h4v4h-4zM314 428h4v4h-4zM246 440h4v4h-4zM226 452h4v4h-4zM190 460h4v4h-4zM202 460h4v4h-4zM298 472h4v4h-4zM314 476h4v4h-4zM334 492h4v4h-4zM218 516h4v4h-4zM210 524h4v4h-4zM366 528h4v4h-4zM302 552h4v4h-4z"/><path fill="#242424" d="M282 48h4v4h-4zM202 76h4v4h-4zM370 112h4v4h-4zM286 124h4v4h-4zM294 128h4v4h-4zM306 140h4v4h-4zM322 160h4v4h-4zM326 164h4v4h-4zM346 176h4v4h-4zM246 208h4v4h-4zM234 220h4v4h-4zM350 248h4v4h-4zM254 288h4v4h-4zM258 296h4v4h-4zM194 352h8v4h-8zM374 352h4v4h-4zM290 404h4v4h-4zM258 424h4v4h-4zM234 448h4v4h-4zM354 456h4v4h-4zM378 460h4v4h-4zM274 472h4v4h-4z"/><path fill="#252525" d="M270 36h4v4h-4zM190 76h4v4h-4zM282 124h4v4h-4zM266 136h4v4h-4zM250 156h4v4h-4zM238 168h4v4h-4zM338 172h4v4h-4zM222 176h4v4h-4zM206 180h4v4h-4zM362 180h4v4h-4zM382 180h4v4h-4zM266 196h4v4h-4zM318 204h4v4h-4zM242 212h4v4h-4zM238 216h4v4h-4zM342 232h4v4h-4zM346 240h4v4h-4zM358 256h4v4h-4zM190 260h4v4h-4zM378 260h4v4h-4zM214 380h4v4h-4zM358 384h4v4h-4zM214 456h4v4h-4zM194 460h8v4h-8zM370 460h8v4h-8zM278 472h4v4h-4zM290 472h8v4h-8zM342 504h4v4h-4zM222 512h4v4h-4zM350 516h4v4h-4zM354 520h4v4h-4zM382 532h4v4h-4zM298 544h4v4h-4z"/><path fill="#262626" d="M294 44h4v4h-4zM358 84h4v4h-4zM214 92h4v4h-4zM214 96h4v4h-4zM270 132h4v4h-4zM310 144h4v4h-4zM190 180h4v4h-4zM302 196h4v4h-4zM258 200h4v4h-4zM230 228h4v4h-4zM370 352h4v4h-4zM206 388h4v4h-4zM278 404h4v4h-4zM302 412h4v4h-4zM254 428h4v4h-4zM318 432h4v4h-4zM330 444h4v4h-4zM346 452h4v4h-4zM282 472h8v4h-8zM250 480h4v4h-4zM230 500h4v4h-4zM358 524h4v4h-4z"/><path fill="#272727" d="M358 104h4v4h-4zM378 112h4v4h-4zM274 128h4v4h-4zM262 140h4v4h-4zM246 160h4v4h-4zM242 164h4v4h-4zM230 172h4v4h-4zM202 180h4v4h-4zM366 180h4v4h-4zM378 180h4v4h-4zM322 208h4v4h-4zM334 220h4v4h-4zM226 236h4v4h-4zM222 244h4v4h-4zM194 260h4v4h-4zM254 272h4v4h-4zM278 320h4v4h-4zM298 408h4v4h-4zM306 416h4v4h-4zM338 448h4v4h-4zM258 476h4v4h-4zM246 484h4v4h-4zM206 528h4v4h-4zM190 532h4v4h-4z"/><path fill="#282828" d="M366 76h4v4h-4zM290 124h4v4h-4zM314 148h4v4h-4zM350 176h4v4h-4zM310 200h4v4h-4zM326 212h4v4h-4zM330 216h4v4h-4zM218 252h4v4h-4zM198 260h4v4h-4zM374 260h4v4h-4zM378 352h4v4h-4zM322 436h4v4h-4zM326 440h4v4h-4zM238 444h4v4h-4zM222 452h4v4h-4zM358 456h4v4h-4zM310 476h4v4h-4zM318 480h4v4h-4zM242 488h4v4h-4zM238 492h4v4h-4zM234 496h4v4h-4zM378 532h4v4h-4zM266 560h4v4h-4zM266 564h4v4h-4z"/><path fill="#292929" d="M202 112h4v4h-4zM258 144h4v4h-4zM194 180h8v4h-8zM370 180h8v4h-8zM270 196h4v4h-4zM214 256h4v4h-4zM370 260h4v4h-4zM318 276h4v4h-4zM314 292h4v4h-4zM266 412h4v4h-4zM310 420h4v4h-4zM250 432h4v4h-4zM230 448h4v4h-4zM210 456h4v4h-4zM338 500h4v4h-4zM226 508h4v4h-4zM346 512h4v4h-4zM362 528h4v4h-4zM194 532h4v4h-4zM266 556h4v4h-4zM266 568h4v4h-4z"/><path fill="#2a2a2a" d="M190 112h4v4h-4zM278 124h4v4h-4zM318 152h4v4h-4zM334 168h4v4h-4zM218 176h4v4h-4zM298 196h4v4h-4zM254 204h4v4h-4zM338 228h4v4h-4zM346 244h4v4h-4zM202 260h4v4h-4zM318 280h4v4h-4zM270 408h4v4h-4zM262 416h4v4h-4zM262 476h4v4h-4zM322 484h4v4h-4zM374 532h4v4h-4zM270 544h4v4h-4zM302 548h4v4h-4z"/><path fill="#2b2b2b" d="M302 28h4v4h-4zM254 148h4v4h-4zM342 172h4v4h-4zM234 224h4v4h-4zM342 236h4v4h-4zM350 252h4v4h-4zM354 256h4v4h-4zM366 260h4v4h-4zM262 304h4v4h-4zM190 352h4v4h-4zM202 352h4v4h-4zM354 364h4v4h-4zM362 388h4v4h-4zM294 404h4v4h-4zM314 424h4v4h-4zM246 436h4v4h-4zM242 440h4v4h-4zM350 452h4v4h-4zM306 476h4v4h-4zM326 488h4v4h-4zM330 492h4v4h-4zM334 496h4v4h-4zM218 520h4v4h-4zM214 524h4v4h-4zM198 532h4v4h-4zM266 552h4v4h-4z"/><path fill="#2c2c2c" d="M290 48h4v4h-4zM298 128h4v4h-4zM302 132h4v4h-4zM306 136h4v4h-4zM322 156h4v4h-4zM234 168h4v4h-4zM354 176h4v4h-4zM274 196h4v4h-4zM262 200h4v4h-4zM222 248h4v4h-4zM286 400h4v4h-4zM258 420h4v4h-4zM218 452h4v4h-4zM362 456h4v4h-4zM342 508h4v4h-4zM370 532h4v4h-4z"/><path fill="#2d2d2d" d="M302 24h4v4h-4zM298 40h4v4h-4zM214 88h4v4h-4zM214 100h4v4h-4zM366 112h4v4h-4zM250 152h4v4h-4zM330 164h4v4h-4zM226 172h4v4h-4zM214 176h4v4h-4zM294 196h4v4h-4zM306 200h4v4h-4zM314 204h4v4h-4zM250 208h4v4h-4zM230 232h4v4h-4zM226 240h4v4h-4zM206 260h4v4h-4zM362 260h4v4h-4zM310 300h4v4h-4zM354 380h4v4h-4zM282 400h4v4h-4zM274 404h4v4h-4zM318 428h4v4h-4zM334 444h4v4h-4zM342 448h4v4h-4zM206 456h4v4h-4zM266 476h4v4h-4zM254 480h4v4h-4zM230 504h4v4h-4zM222 516h4v4h-4zM286 540h4v4h-4z"/><path fill="#2e2e2e" d="M382 76h4v4h-4zM310 140h4v4h-4zM326 160h4v4h-4zM278 196h4v4h-4zM246 212h4v4h-4zM238 220h4v4h-4zM334 224h4v4h-4zM298 316h4v4h-4zM254 424h4v4h-4zM382 456h4v4h-4zM302 476h4v4h-4zM350 520h4v4h-4zM354 524h4v4h-4zM210 528h4v4h-4zM202 532h4v4h-4zM282 540h4v4h-4z"/><path fill="#2f2f2f" d="M302 32h4v4h-4zM274 44h4v4h-4zM294 124h4v4h-4zM270 128h4v4h-4zM266 132h4v4h-4zM262 136h4v4h-4zM358 176h4v4h-4zM290 196h4v4h-4zM318 208h4v4h-4zM242 216h4v4h-4zM382 264h4v4h-4zM366 352h4v4h-4zM234 444h4v4h-4zM226 448h4v4h-4zM270 476h4v4h-4zM314 480h4v4h-4zM366 532h4v4h-4z"/><path fill="#303030" d="M354 92h4v4h-4zM354 96h4v4h-4zM246 156h4v4h-4zM238 164h4v4h-4zM346 172h4v4h-4zM210 176h4v4h-4zM282 196h8v4h-8zM346 248h4v4h-4zM210 260h4v4h-4zM318 284h4v4h-4zM302 312h4v4h-4zM210 356h4v4h-4zM374 392h4v4h-4zM290 400h4v4h-4zM302 408h4v4h-4zM306 412h4v4h-4zM322 432h4v4h-4zM354 452h4v4h-4zM190 456h4v4h-4zM202 456h4v4h-4zM366 456h4v4h-4zM298 476h4v4h-4zM250 484h4v4h-4zM346 516h4v4h-4zM290 540h4v4h-4z"/><path fill="#313131" d="M278 48h4v4h-4zM210 108h4v4h-4zM286 120h4v4h-4zM258 140h4v4h-4zM314 144h4v4h-4zM242 160h4v4h-4zM338 168h4v4h-4zM266 200h4v4h-4zM322 212h4v4h-4zM330 220h4v4h-4zM338 232h4v4h-4zM342 240h4v4h-4zM218 256h4v4h-4zM358 260h4v4h-4zM254 292h4v4h-4zM286 324h4v4h-4zM218 372h4v4h-4zM194 392h8v4h-8zM250 428h4v4h-4zM330 440h4v4h-4zM378 456h4v4h-4zM246 488h4v4h-4zM234 500h4v4h-4zM338 504h4v4h-4zM226 512h4v4h-4zM358 528h4v4h-4zM278 540h4v4h-4zM266 548h4v4h-4z"/><path fill="#323232" d="M210 80h4v4h-4zM382 112h4v4h-4zM282 120h4v4h-4zM274 124h4v4h-4zM222 172h4v4h-4zM362 176h4v4h-4zM382 176h4v4h-4zM258 204h4v4h-4zM326 216h4v4h-4zM234 228h4v4h-4zM190 264h4v4h-4zM250 276h4v4h-4zM382 352h4v4h-4zM370 392h4v4h-4zM278 400h4v4h-4zM298 404h4v4h-4zM310 416h4v4h-4zM326 436h4v4h-4zM214 452h4v4h-4zM194 456h4v4h-4zM370 456h4v4h-4zM274 476h4v4h-4zM294 476h4v4h-4zM242 492h4v4h-4zM238 496h4v4h-4zM382 536h4v4h-4z"/><path fill="#333333" d="M266 28h4v4h-4zM318 148h4v4h-4zM230 168h4v4h-4zM206 176h4v4h-4zM302 200h4v4h-4zM226 244h4v4h-4zM222 252h4v4h-4zM378 264h4v4h-4zM294 320h4v4h-4zM282 324h4v4h-4zM214 360h4v4h-4zM266 408h4v4h-4zM262 412h4v4h-4zM346 448h4v4h-4zM198 456h4v4h-4zM374 456h4v4h-4zM278 476h4v4h-4zM290 476h4v4h-4zM258 480h4v4h-4zM318 484h4v4h-4zM206 532h4v4h-4z"/><path fill="#343434" d="M206 76h4v4h-4zM254 144h4v4h-4zM190 176h4v4h-4zM310 204h4v4h-4zM230 236h4v4h-4zM350 256h4v4h-4zM318 272h4v4h-4zM250 280h4v4h-4zM214 384h4v4h-4zM378 392h4v4h-4zM314 420h4v4h-4zM246 432h4v4h-4zM238 440h4v4h-4zM338 444h4v4h-4zM282 476h8v4h-8zM322 488h4v4h-4zM334 500h4v4h-4zM230 508h4v4h-4zM342 512h4v4h-4zM190 536h4v4h-4zM294 540h4v4h-4z"/><path fill="#353535" d="M266 24h4v4h-4zM354 100h4v4h-4zM206 112h4v4h-4zM290 120h4v4h-4zM322 152h4v4h-4zM334 164h4v4h-4zM350 172h4v4h-4zM202 176h4v4h-4zM366 176h4v4h-4zM378 176h4v4h-4zM254 208h4v4h-4zM214 260h4v4h-4zM194 264h4v4h-4zM258 300h4v4h-4zM218 368h4v4h-4zM218 376h4v4h-4zM210 388h4v4h-4zM270 404h4v4h-4zM258 416h4v4h-4zM242 436h4v4h-4zM222 448h4v4h-4zM358 452h4v4h-4zM310 480h4v4h-4zM326 492h4v4h-4zM218 524h4v4h-4zM362 532h4v4h-4zM378 536h4v4h-4z"/><path fill="#363636" d="M302 128h4v4h-4zM306 132h4v4h-4zM250 148h4v4h-4zM270 200h4v4h-4zM238 224h4v4h-4zM334 228h4v4h-4zM346 252h4v4h-4zM198 264h4v4h-4zM374 264h4v4h-4zM306 308h4v4h-4zM270 316h4v4h-4zM190 392h4v4h-4zM202 392h4v4h-4zM294 400h4v4h-4zM318 424h4v4h-4zM230 444h4v4h-4zM210 452h4v4h-4zM330 496h4v4h-4zM222 520h4v4h-4zM214 528h4v4h-4zM302 544h4v4h-4z"/><path fill="#373737" d="M354 88h4v4h-4zM358 108h4v4h-4zM278 120h4v4h-4zM298 124h4v4h-4zM310 136h4v4h-4zM326 156h4v4h-4zM342 168h4v4h-4zM218 172h4v4h-4zM194 176h8v4h-8zM370 176h8v4h-8zM298 200h4v4h-4zM338 236h4v4h-4zM342 244h4v4h-4zM354 260h4v4h-4zM370 264h4v4h-4zM314 296h4v4h-4zM254 420h4v4h-4zM194 536h4v4h-4zM274 540h4v4h-4z"/><path fill="#383838" d="M270 40h4v4h-4zM214 104h4v4h-4zM246 152h4v4h-4zM330 160h4v4h-4zM234 164h4v4h-4zM262 204h4v4h-4zM314 208h4v4h-4zM250 212h4v4h-4zM246 216h4v4h-4zM242 220h4v4h-4zM202 264h4v4h-4zM250 284h4v4h-4zM318 288h4v4h-4zM358 356h4v4h-4zM366 392h4v4h-4zM350 448h4v4h-4zM262 480h4v4h-4zM338 508h4v4h-4zM226 516h4v4h-4zM350 524h4v4h-4zM374 536h4v4h-4z"/><path fill="#393939" d="M266 32h4v4h-4zM194 72h8v4h-8zM374 72h4v4h-4zM266 128h4v4h-4zM262 132h4v4h-4zM314 140h4v4h-4zM226 168h4v4h-4zM354 172h4v4h-4zM234 232h4v4h-4zM230 240h4v4h-4zM226 248h4v4h-4zM366 264h4v4h-4zM266 312h4v4h-4zM274 320h4v4h-4zM206 352h4v4h-4zM350 372h4v4h-4zM286 396h4v4h-4zM274 400h4v4h-4zM306 408h4v4h-4zM250 424h4v4h-4zM322 428h4v4h-4zM334 440h4v4h-4zM342 444h4v4h-4zM218 448h4v4h-4zM362 452h4v4h-4zM306 480h4v4h-4zM254 484h4v4h-4zM234 504h4v4h-4zM346 520h4v4h-4zM354 528h4v4h-4zM198 536h4v4h-4zM370 536h4v4h-4z"/><path fill="#3a3a3a" d="M362 76h4v4h-4zM362 112h4v4h-4zM270 124h4v4h-4zM258 136h4v4h-4zM242 156h4v4h-4zM238 160h4v4h-4zM214 172h4v4h-4zM274 200h4v4h-4zM294 200h4v4h-4zM306 204h4v4h-4zM318 212h4v4h-4zM330 224h4v4h-4zM206 264h4v4h-4zM250 272h4v4h-4zM290 324h4v4h-4zM354 384h4v4h-4zM358 388h4v4h-4zM282 396h4v4h-4zM302 404h4v4h-4zM310 412h4v4h-4zM206 452h4v4h-4zM250 488h4v4h-4zM210 532h4v4h-4zM306 556h4v4h-4zM306 560h4v4h-4z"/><path fill="#3b3b3b" d="M370 72h4v4h-4zM358 80h4v4h-4zM214 84h4v4h-4zM294 120h4v4h-4zM318 144h4v4h-4zM322 216h4v4h-4zM326 220h4v4h-4zM222 256h4v4h-4zM362 264h4v4h-4zM326 432h4v4h-4zM330 436h4v4h-4zM234 440h4v4h-4zM226 444h4v4h-4zM266 480h4v4h-4zM302 480h4v4h-4zM314 484h4v4h-4zM246 492h4v4h-4zM238 500h4v4h-4zM342 516h4v4h-4zM202 536h4v4h-4zM298 540h4v4h-4zM266 544h4v4h-4zM306 564h4v4h-4z"/><path fill="#3c3c3c" d="M302 36h4v4h-4zM286 52h4v4h-4zM378 72h4v4h-4zM274 120h4v4h-4zM254 140h4v4h-4zM338 164h4v4h-4zM346 168h4v4h-4zM358 172h4v4h-4zM278 200h4v4h-4zM290 200h4v4h-4zM334 232h4v4h-4zM342 248h4v4h-4zM218 260h4v4h-4zM382 268h4v4h-4zM350 376h4v4h-4zM382 392h4v4h-4zM290 396h4v4h-4zM262 408h4v4h-4zM314 416h4v4h-4zM246 428h4v4h-4zM354 448h4v4h-4zM382 452h4v4h-4zM242 496h4v4h-4zM334 504h4v4h-4zM230 512h4v4h-4zM358 532h4v4h-4zM366 536h4v4h-4zM306 552h4v4h-4z"/><path fill="#3d3d3d" d="M282 52h4v4h-4zM374 116h4v4h-4zM322 148h4v4h-4zM210 172h4v4h-4zM282 200h8v4h-8zM266 204h4v4h-4zM258 208h4v4h-4zM238 228h4v4h-4zM338 240h4v4h-4zM346 256h4v4h-4zM210 264h4v4h-4zM358 264h4v4h-4zM258 268h20v4h-20zM298 268h16v4h-16zM354 360h4v4h-4zM218 380h4v4h-4zM278 396h4v4h-4zM298 400h4v4h-4zM266 404h4v4h-4zM258 412h4v4h-4zM214 448h4v4h-4zM190 452h4v4h-4zM202 452h4v4h-4zM366 452h4v4h-4zM270 480h4v4h-4zM298 480h4v4h-4zM318 488h4v4h-4zM322 492h4v4h-4z"/><path fill="#3e3e3e" d="M190 72h4v4h-4zM354 104h4v4h-4zM194 116h8v4h-8zM282 116h8v4h-8zM370 116h4v4h-4zM306 128h4v4h-4zM250 144h4v4h-4zM230 164h4v4h-4zM222 168h4v4h-4zM230 244h4v4h-4zM226 252h4v4h-4zM350 260h4v4h-4zM190 268h4v4h-4zM278 268h20v4h-20zM314 268h4v4h-4zM254 296h4v4h-4zM278 324h4v4h-4zM362 352h4v4h-4zM350 368h4v4h-4zM206 392h4v4h-4zM318 420h4v4h-4zM242 432h4v4h-4zM238 436h4v4h-4zM346 444h4v4h-4zM378 452h4v4h-4zM274 480h4v4h-4zM258 484h4v4h-4zM326 496h4v4h-4zM330 500h4v4h-4zM338 512h4v4h-4zM222 524h4v4h-4zM218 528h4v4h-4zM206 536h4v4h-4zM270 540h4v4h-4zM382 540h4v4h-4z"/><path fill="#3f3f3f" d="M202 72h4v4h-4zM302 124h4v4h-4zM310 132h4v4h-4zM246 148h4v4h-4zM326 152h4v4h-4zM334 160h4v4h-4zM206 172h4v4h-4zM362 172h4v4h-4zM382 172h4v4h-4zM302 204h4v4h-4zM310 208h4v4h-4zM254 212h4v4h-4zM234 236h4v4h-4zM254 268h4v4h-4zM378 268h4v4h-4zM250 288h4v4h-4zM310 304h4v4h-4zM270 400h4v4h-4zM254 416h4v4h-4zM322 424h4v4h-4zM338 440h4v4h-4zM194 452h8v4h-8zM370 452h8v4h-8zM278 480h4v4h-4zM294 480h4v4h-4zM234 508h4v4h-4zM226 520h4v4h-4z"/><path fill="#404040" d="M294 48h4v4h-4zM290 116h4v4h-4zM378 116h4v4h-4zM314 136h4v4h-4zM330 156h4v4h-4zM190 172h4v4h-4zM250 216h4v4h-4zM242 224h4v4h-4zM330 228h4v4h-4zM214 264h4v4h-4zM262 308h4v4h-4zM250 420h4v4h-4zM230 440h4v4h-4zM222 444h4v4h-4zM358 448h4v4h-4zM282 480h12v4h-12zM310 484h4v4h-4zM346 524h4v4h-4zM350 528h4v4h-4zM214 532h4v4h-4zM362 536h4v4h-4zM190 540h4v4h-4zM306 548h4v4h-4z"/><path fill="#414141" d="M218 96h4v4h-4zM278 116h4v4h-4zM298 120h4v4h-4zM266 124h4v4h-4zM262 128h4v4h-4zM258 132h4v4h-4zM242 152h4v4h-4zM234 160h4v4h-4zM350 168h4v4h-4zM202 172h4v4h-4zM366 172h4v4h-4zM378 172h4v4h-4zM270 204h4v4h-4zM314 212h4v4h-4zM246 220h4v4h-4zM342 252h4v4h-4zM354 264h4v4h-4zM194 268h4v4h-4zM362 392h4v4h-4zM294 396h4v4h-4zM310 408h4v4h-4zM378 540h4v4h-4zM262 556h4v4h-4zM262 560h4v4h-4zM306 568h4v4h-4z"/><path fill="#424242" d="M218 92h4v4h-4zM190 116h4v4h-4zM202 116h4v4h-4zM318 140h4v4h-4zM342 164h4v4h-4zM218 168h4v4h-4zM334 236h4v4h-4zM338 244h4v4h-4zM374 268h4v4h-4zM318 292h4v4h-4zM194 348h8v4h-8zM374 348h4v4h-4zM218 364h4v4h-4zM306 404h4v4h-4zM246 424h4v4h-4zM326 428h4v4h-4zM210 448h4v4h-4zM254 488h4v4h-4zM238 504h4v4h-4zM334 508h4v4h-4zM230 516h4v4h-4zM342 520h4v4h-4zM354 532h4v4h-4z"/><path fill="#434343" d="M290 52h4v4h-4zM366 72h4v4h-4zM382 72h4v4h-4zM210 112h4v4h-4zM270 120h4v4h-4zM254 136h4v4h-4zM238 156h4v4h-4zM194 172h8v4h-8zM370 172h8v4h-8zM298 204h4v4h-4zM262 208h4v4h-4zM318 216h4v4h-4zM326 224h4v4h-4zM238 232h4v4h-4zM230 248h4v4h-4zM222 260h4v4h-4zM198 268h4v4h-4zM370 268h4v4h-4zM322 276h4v4h-4zM370 348h4v4h-4zM350 380h4v4h-4zM274 396h4v4h-4zM302 400h4v4h-4zM314 412h4v4h-4zM334 436h4v4h-4zM350 444h4v4h-4zM262 484h4v4h-4zM250 492h4v4h-4zM210 536h4v4h-4zM194 540h4v4h-4zM262 552h4v4h-4zM262 564h4v4h-4z"/><path fill="#444444" d="M306 24h4v4h-4zM214 108h4v4h-4zM366 116h4v4h-4zM322 144h4v4h-4zM226 164h4v4h-4zM322 220h4v4h-4zM234 240h4v4h-4zM226 256h4v4h-4zM202 268h4v4h-4zM322 280h4v4h-4zM214 388h4v4h-4zM330 432h4v4h-4zM342 440h4v4h-4zM246 496h4v4h-4zM242 500h4v4h-4zM374 540h4v4h-4z"/><path fill="#454545" d="M306 28h4v4h-4zM354 84h4v4h-4zM218 100h4v4h-4zM294 116h4v4h-4zM250 140h4v4h-4zM354 168h4v4h-4zM306 208h4v4h-4zM318 268h4v4h-4zM366 268h4v4h-4zM378 348h4v4h-4zM262 404h4v4h-4zM258 408h4v4h-4zM318 416h4v4h-4zM242 428h4v4h-4zM234 436h4v4h-4zM218 444h4v4h-4zM362 448h4v4h-4zM306 484h4v4h-4zM314 488h4v4h-4zM282 536h8v4h-8zM198 540h4v4h-4zM302 540h4v4h-4z"/><path fill="#464646" d="M274 204h4v4h-4zM346 260h4v4h-4zM218 264h4v4h-4zM298 320h4v4h-4zM190 348h4v4h-4zM282 392h8v4h-8zM266 400h4v4h-4zM226 440h4v4h-4zM206 448h4v4h-4zM318 492h4v4h-4zM330 504h4v4h-4zM234 512h4v4h-4zM338 516h4v4h-4zM358 536h4v4h-4zM370 540h4v4h-4z"/><path fill="#474747" d="M266 36h4v4h-4zM298 44h4v4h-4zM326 148h4v4h-4zM338 160h4v4h-4zM214 168h4v4h-4zM294 204h4v4h-4zM206 268h4v4h-4zM314 300h4v4h-4zM254 412h4v4h-4zM238 432h4v4h-4zM266 484h4v4h-4zM322 496h4v4h-4zM222 528h4v4h-4zM290 536h4v4h-4zM202 540h4v4h-4zM262 548h4v4h-4z"/><path fill="#484848" d="M278 52h4v4h-4zM358 112h4v4h-4zM274 116h4v4h-4zM382 116h4v4h-4zM306 124h4v4h-4zM310 128h4v4h-4zM246 144h4v4h-4zM258 212h4v4h-4zM330 232h4v4h-4zM338 248h4v4h-4zM342 256h4v4h-4zM362 268h4v4h-4zM258 304h4v4h-4zM302 316h4v4h-4zM218 384h4v4h-4zM298 396h4v4h-4zM322 420h4v4h-4zM326 500h4v4h-4zM226 524h4v4h-4zM218 532h4v4h-4zM278 536h4v4h-4zM306 544h4v4h-4z"/><path fill="#494949" d="M274 48h4v4h-4zM350 96h4v4h-4zM314 132h4v4h-4zM346 164h4v4h-4zM242 228h4v4h-4zM334 240h4v4h-4zM350 264h4v4h-4zM250 268h4v4h-4zM322 272h4v4h-4zM322 284h4v4h-4zM250 292h4v4h-4zM294 324h4v4h-4zM202 348h4v4h-4zM210 392h4v4h-4zM290 392h4v4h-4zM354 444h4v4h-4zM382 448h4v4h-4zM302 484h4v4h-4zM366 540h4v4h-4z"/><path fill="#4a4a4a" d="M354 108h4v4h-4zM206 116h4v4h-4zM302 120h4v4h-4zM330 152h4v4h-4zM334 156h4v4h-4zM230 160h4v4h-4zM358 168h4v4h-4zM278 204h4v4h-4zM266 208h4v4h-4zM230 252h4v4h-4zM210 268h4v4h-4zM382 272h4v4h-4zM286 328h4v4h-4zM354 388h4v4h-4zM250 416h4v4h-4zM366 448h4v4h-4zM266 540h4v4h-4z"/><path fill="#4b4b4b" d="M210 76h4v4h-4zM218 88h4v4h-4zM350 92h4v4h-4zM242 148h4v4h-4zM222 164h4v4h-4zM290 204h4v4h-4zM310 212h4v4h-4zM254 216h4v4h-4zM246 276h4v4h-4zM382 348h4v4h-4zM214 356h4v4h-4zM278 392h4v4h-4zM194 396h8v4h-8zM374 396h4v4h-4zM214 444h4v4h-4zM270 484h4v4h-4zM334 512h4v4h-4zM230 520h4v4h-4zM346 528h4v4h-4zM294 536h4v4h-4z"/><path fill="#4c4c4c" d="M262 24h4v4h-4zM262 124h4v4h-4zM210 168h4v4h-4zM282 204h4v4h-4zM238 236h4v4h-4zM234 244h4v4h-4zM358 268h4v4h-4zM282 328h4v4h-4zM350 364h4v4h-4zM222 372h4v4h-4zM270 396h4v4h-4zM370 396h4v4h-4zM326 424h4v4h-4zM338 436h4v4h-4zM346 440h4v4h-4zM190 448h4v4h-4zM202 448h4v4h-4zM298 484h4v4h-4zM258 488h4v4h-4zM238 508h4v4h-4zM342 524h4v4h-4zM350 532h4v4h-4zM206 540h4v4h-4zM262 568h4v4h-4z"/><path fill="#4d4d4d" d="M206 72h4v4h-4zM350 100h4v4h-4zM218 104h4v4h-4zM258 128h4v4h-4zM318 136h4v4h-4zM286 204h4v4h-4zM302 208h4v4h-4zM250 220h4v4h-4zM246 224h4v4h-4zM190 272h4v4h-4zM246 280h4v4h-4zM306 312h4v4h-4zM366 348h4v4h-4zM210 352h4v4h-4zM222 376h4v4h-4zM378 396h4v4h-4zM246 420h4v4h-4zM378 448h4v4h-4zM214 536h4v4h-4zM274 536h4v4h-4z"/><path fill="#4e4e4e" d="M266 120h4v4h-4zM270 320h4v4h-4zM358 392h4v4h-4zM310 404h4v4h-4zM382 544h4v4h-4z"/><path fill="#4f4f4f" d="M262 28h4v4h-4zM306 32h4v4h-4zM286 112h4v4h-4zM298 116h4v4h-4zM362 116h4v4h-4zM254 132h4v4h-4zM238 152h4v4h-4zM234 156h4v4h-4zM362 168h4v4h-4zM382 168h4v4h-4zM326 228h4v4h-4zM378 272h4v4h-4zM254 300h4v4h-4zM350 384h4v4h-4zM190 396h4v4h-4zM202 396h4v4h-4zM306 400h4v4h-4zM314 408h4v4h-4zM230 436h4v4h-4zM222 440h4v4h-4zM370 448h4v4h-4zM274 484h4v4h-4zM310 488h4v4h-4zM362 540h4v4h-4z"/><path fill="#505050" d="M214 80h4v4h-4zM282 112h4v4h-4zM206 168h4v4h-4zM314 216h4v4h-4zM226 260h4v4h-4zM214 268h4v4h-4zM322 288h4v4h-4zM274 324h4v4h-4zM194 448h8v4h-8zM294 484h4v4h-4zM262 544h4v4h-4z"/><path fill="#515151" d="M322 140h4v4h-4zM350 164h4v4h-4zM338 252h4v4h-4zM246 272h4v4h-4zM318 296h4v4h-4zM266 316h4v4h-4zM294 392h4v4h-4zM330 428h4v4h-4zM358 444h4v4h-4zM374 448h4v4h-4zM278 484h4v4h-4zM254 492h4v4h-4zM338 520h4v4h-4z"/><path fill="#525252" d="M250 136h4v4h-4zM342 160h4v4h-4zM190 168h4v4h-4zM318 220h4v4h-4zM222 264h4v4h-4zM246 284h4v4h-4zM366 396h4v4h-4zM242 424h4v4h-4zM334 432h4v4h-4zM290 484h4v4h-4zM250 496h4v4h-4zM242 504h4v4h-4zM330 508h4v4h-4zM234 516h4v4h-4zM354 536h4v4h-4zM190 544h4v4h-4z"/><path fill="#535353" d="M302 40h4v4h-4zM270 44h4v4h-4zM290 112h4v4h-4zM270 116h4v4h-4zM322 224h4v4h-4zM330 236h4v4h-4zM334 244h4v4h-4zM354 268h4v4h-4zM290 328h4v4h-4zM222 368h4v4h-4zM258 404h4v4h-4zM318 412h4v4h-4zM282 484h8v4h-8zM246 500h4v4h-4zM298 536h4v4h-4z"/><path fill="#545454" d="M358 76h4v4h-4zM326 144h4v4h-4zM218 164h4v4h-4zM366 168h4v4h-4zM378 168h4v4h-4zM270 208h4v4h-4zM194 272h4v4h-4zM274 392h4v4h-4zM302 396h4v4h-4zM210 444h4v4h-4zM378 544h4v4h-4zM310 556h4v4h-4z"/><path fill="#555555" d="M362 72h4v4h-4zM278 112h4v4h-4zM202 168h4v4h-4zM262 212h4v4h-4zM230 256h4v4h-4zM374 272h4v4h-4zM310 308h4v4h-4zM358 352h4v4h-4zM222 380h4v4h-4zM262 400h4v4h-4zM254 408h4v4h-4zM310 560h4v4h-4z"/><path fill="#565656" d="M194 68h4v4h-4zM374 68h4v4h-4zM350 88h4v4h-4zM214 112h4v4h-4zM226 160h4v4h-4zM242 232h4v4h-4zM342 260h4v4h-4zM354 356h4v4h-4zM218 360h4v4h-4zM346 372h4v4h-4zM346 376h4v4h-4zM382 396h4v4h-4zM350 440h4v4h-4zM314 492h4v4h-4zM210 540h4v4h-4zM310 552h4v4h-4z"/><path fill="#575757" d="M286 56h4v4h-4zM198 68h4v4h-4zM350 104h4v4h-4zM246 140h4v4h-4zM298 208h4v4h-4zM234 248h4v4h-4zM346 264h4v4h-4zM278 328h4v4h-4zM322 416h4v4h-4zM238 428h4v4h-4zM234 432h4v4h-4zM270 536h4v4h-4z"/><path fill="#585858" d="M310 124h4v4h-4zM194 168h4v4h-4zM370 168h4v4h-4zM198 272h4v4h-4zM370 272h4v4h-4zM262 312h4v4h-4zM342 436h4v4h-4zM262 488h4v4h-4zM318 496h4v4h-4zM226 528h4v4h-4zM222 532h4v4h-4zM194 544h4v4h-4z"/><path fill="#595959" d="M282 56h4v4h-4zM370 68h4v4h-4zM378 68h4v4h-4zM330 148h4v4h-4zM198 168h4v4h-4zM374 168h4v4h-4zM238 240h4v4h-4zM262 264h4v4h-4zM306 264h8v4h-8zM322 268h4v4h-4zM206 396h4v4h-4zM266 396h4v4h-4zM250 412h4v4h-4zM326 504h4v4h-4zM334 516h4v4h-4z"/><path fill="#5a5a5a" d="M262 32h4v4h-4zM294 52h4v4h-4zM210 116h4v4h-4zM306 120h4v4h-4zM314 128h4v4h-4zM338 156h4v4h-4zM306 212h4v4h-4zM258 264h4v4h-4zM266 264h12v4h-12zM298 264h8v4h-8zM218 268h4v4h-4zM202 272h4v4h-4zM246 288h4v4h-4zM250 296h4v4h-4zM206 348h4v4h-4zM218 388h4v4h-4zM218 440h4v4h-4zM322 500h4v4h-4zM238 512h4v4h-4zM230 524h4v4h-4zM306 540h4v4h-4zM358 540h4v4h-4zM374 544h4v4h-4zM310 564h4v4h-4z"/><path fill="#5b5b5b" d="M294 112h4v4h-4zM242 144h4v4h-4zM354 164h4v4h-4zM294 264h4v4h-4zM314 264h4v4h-4zM214 392h4v4h-4zM326 420h4v4h-4zM362 444h4v4h-4zM306 488h4v4h-4z"/><path fill="#5c5c5c" d="M190 68h4v4h-4zM354 80h4v4h-4zM218 108h4v4h-4zM194 120h8v4h-8zM374 120h4v4h-4zM258 216h4v4h-4zM278 264h16v4h-16zM366 272h4v4h-4zM226 436h4v4h-4zM218 536h4v4h-4zM310 548h4v4h-4z"/><path fill="#5d5d5d" d="M370 120h4v4h-4zM318 132h4v4h-4zM334 152h4v4h-4zM274 208h4v4h-4zM338 256h4v4h-4zM254 264h4v4h-4zM298 392h4v4h-4zM362 396h4v4h-4zM206 444h4v4h-4zM346 532h4v4h-4zM198 544h4v4h-4z"/><path fill="#5e5e5e" d="M218 84h4v4h-4zM274 112h4v4h-4zM354 112h4v4h-4zM302 116h4v4h-4zM258 124h4v4h-4zM214 164h4v4h-4zM326 232h4v4h-4zM350 268h4v4h-4zM322 292h4v4h-4zM286 388h4v4h-4zM246 416h4v4h-4zM342 528h4v4h-4zM370 544h4v4h-4z"/><path fill="#5f5f5f" d="M378 120h4v4h-4zM230 156h4v4h-4zM346 160h4v4h-4zM246 228h4v4h-4zM334 248h4v4h-4zM206 272h4v4h-4zM314 304h4v4h-4zM346 368h4v4h-4zM346 380h4v4h-4zM282 388h4v4h-4zM258 556h4v4h-4z"/><path fill="#606060" d="M266 40h4v4h-4zM202 68h4v4h-4zM222 96h4v4h-4zM262 120h4v4h-4zM254 128h4v4h-4zM238 148h4v4h-4zM294 208h4v4h-4zM254 220h4v4h-4zM302 536h4v4h-4zM202 544h4v4h-4zM258 560h4v4h-4z"/><path fill="#616161" d="M290 56h4v4h-4zM358 116h4v4h-4zM330 240h4v4h-4zM318 264h4v4h-4zM246 268h4v4h-4zM362 272h4v4h-4zM258 308h4v4h-4zM310 400h4v4h-4zM314 404h4v4h-4zM330 424h4v4h-4zM354 440h4v4h-4zM266 488h4v4h-4zM330 512h4v4h-4zM234 520h4v4h-4zM338 524h4v4h-4zM350 536h4v4h-4zM258 552h4v4h-4z"/><path fill="#626262" d="M306 36h4v4h-4zM382 68h4v4h-4zM190 120h4v4h-4zM202 120h4v4h-4zM322 136h4v4h-4zM266 212h4v4h-4zM310 216h4v4h-4zM250 224h4v4h-4zM234 252h4v4h-4zM326 276h4v4h-4zM362 348h4v4h-4zM290 388h4v4h-4zM350 388h4v4h-4zM270 392h4v4h-4zM354 392h4v4h-4zM242 420h4v4h-4zM338 432h4v4h-4zM262 540h4v4h-4zM366 544h4v4h-4z"/><path fill="#636363" d="M266 116h4v4h-4zM234 152h4v4h-4zM222 160h4v4h-4zM382 276h4v4h-4zM298 324h4v4h-4zM222 384h4v4h-4zM382 444h4v4h-4zM302 488h4v4h-4zM258 492h4v4h-4z"/><path fill="#646464" d="M222 100h4v4h-4zM366 120h4v4h-4zM250 132h4v4h-4zM358 164h4v4h-4zM278 208h4v4h-4zM226 264h4v4h-4zM210 272h4v4h-4zM326 280h4v4h-4zM350 360h4v4h-4zM318 408h4v4h-4zM346 436h4v4h-4zM214 440h4v4h-4zM366 444h4v4h-4zM242 508h4v4h-4zM214 540h4v4h-4z"/><path fill="#656565" d="M310 24h4v4h-4zM298 48h4v4h-4zM274 52h4v4h-4zM366 68h4v4h-4zM222 92h4v4h-4zM350 108h4v4h-4zM242 236h4v4h-4zM238 244h4v4h-4zM230 260h4v4h-4zM250 264h4v4h-4zM302 320h4v4h-4zM278 388h4v4h-4zM306 396h4v4h-4zM334 428h4v4h-4z"/><path fill="#666666" d="M326 140h4v4h-4zM210 164h4v4h-4zM290 208h4v4h-4zM358 272h4v4h-4zM294 328h4v4h-4zM202 444h4v4h-4zM254 496h4v4h-4zM286 532h4v4h-4zM266 536h4v4h-4zM206 544h4v4h-4zM310 544h4v4h-4z"/><path fill="#676767" d="M278 56h4v4h-4zM298 112h4v4h-4zM302 212h4v4h-4zM314 220h4v4h-4zM322 228h4v4h-4zM222 268h4v4h-4zM326 272h4v4h-4zM222 364h4v4h-4zM210 396h4v4h-4zM258 400h4v4h-4zM254 404h4v4h-4zM230 432h4v4h-4zM222 436h4v4h-4zM190 444h4v4h-4zM270 488h4v4h-4zM282 532h4v4h-4zM258 548h4v4h-4zM258 564h4v4h-4z"/><path fill="#686868" d="M382 120h4v4h-4zM246 136h4v4h-4zM282 208h4v4h-4zM190 276h4v4h-4zM318 300h4v4h-4zM198 344h4v4h-4zM322 412h4v4h-4zM238 424h4v4h-4zM378 444h4v4h-4zM298 488h4v4h-4zM310 492h4v4h-4zM250 500h4v4h-4zM334 520h4v4h-4zM354 540h4v4h-4zM310 568h4v4h-4z"/><path fill="#696969" d="M286 208h4v4h-4zM318 224h4v4h-4zM342 264h4v4h-4zM326 284h4v4h-4zM246 292h4v4h-4zM374 344h4v4h-4zM246 504h4v4h-4zM290 532h4v4h-4zM362 544h4v4h-4zM382 548h4v4h-4z"/><path fill="#6a6a6a" d="M310 28h4v4h-4zM330 144h4v4h-4zM342 156h4v4h-4zM334 252h4v4h-4zM214 272h4v4h-4zM378 276h4v4h-4zM194 344h4v4h-4zM370 344h4v4h-4zM294 388h4v4h-4zM262 396h4v4h-4zM250 408h4v4h-4zM358 440h4v4h-4zM238 516h4v4h-4zM226 532h4v4h-4zM278 532h4v4h-4z"/><path fill="#6b6b6b" d="M210 72h4v4h-4zM350 84h4v4h-4zM270 112h4v4h-4zM206 120h4v4h-4zM350 160h4v4h-4zM362 164h4v4h-4zM382 164h4v4h-4zM254 304h4v4h-4zM302 392h4v4h-4zM234 428h4v4h-4zM370 444h4v4h-4zM326 508h4v4h-4z"/><path fill="#6c6c6c" d="M346 96h4v4h-4zM310 120h4v4h-4zM314 124h4v4h-4zM242 140h4v4h-4zM338 260h4v4h-4zM346 268h4v4h-4zM242 276h4v4h-4zM306 316h4v4h-4zM358 396h4v4h-4zM326 416h4v4h-4zM194 444h8v4h-8zM374 444h4v4h-4zM274 488h4v4h-4zM230 528h4v4h-4zM222 536h4v4h-4zM190 548h4v4h-4z"/><path fill="#6d6d6d" d="M222 104h4v4h-4zM206 164h4v4h-4zM326 236h4v4h-4zM330 244h4v4h-4zM234 256h4v4h-4zM354 272h4v4h-4zM270 324h4v4h-4zM378 344h4v4h-4zM214 352h4v4h-4zM346 384h4v4h-4zM274 388h4v4h-4zM210 440h4v4h-4zM294 488h4v4h-4zM314 496h4v4h-4z"/><path fill="#6e6e6e" d="M286 108h4v4h-4zM306 116h4v4h-4zM318 128h4v4h-4zM334 148h4v4h-4zM226 156h4v4h-4zM218 160h4v4h-4zM270 212h4v4h-4zM262 216h4v4h-4zM194 276h4v4h-4zM242 280h4v4h-4zM286 332h4v4h-4zM246 412h4v4h-4zM350 436h4v4h-4zM318 500h4v4h-4zM294 532h4v4h-4zM210 544h4v4h-4zM378 548h4v4h-4z"/><path fill="#6f6f6f" d="M346 100h4v4h-4zM282 108h4v4h-4zM214 116h4v4h-4zM362 120h4v4h-4zM338 152h4v4h-4zM190 164h4v4h-4zM274 328h4v4h-4zM190 344h4v4h-4zM226 376h4v4h-4zM266 392h4v4h-4zM342 432h4v4h-4zM278 488h4v4h-4zM290 488h4v4h-4zM234 524h4v4h-4zM258 544h4v4h-4z"/><path fill="#707070" d="M258 24h4v4h-4zM214 76h4v4h-4zM218 112h4v4h-4zM238 144h4v4h-4zM366 164h4v4h-4zM378 164h4v4h-4zM238 248h4v4h-4zM322 264h4v4h-4zM374 276h4v4h-4zM282 332h4v4h-4zM226 372h4v4h-4zM330 420h4v4h-4zM282 488h4v4h-4zM322 504h4v4h-4zM330 516h4v4h-4zM274 532h4v4h-4zM342 532h4v4h-4z"/><path fill="#717171" d="M262 36h4v4h-4zM290 108h4v4h-4zM258 120h4v4h-4zM254 124h4v4h-4zM322 132h4v4h-4zM246 232h4v4h-4zM218 272h4v4h-4zM242 272h4v4h-4zM326 288h4v4h-4zM218 392h4v4h-4zM286 488h4v4h-4zM338 528h4v4h-4zM346 536h4v4h-4zM218 540h4v4h-4zM358 544h4v4h-4z"/><path fill="#727272" d="M346 92h4v4h-4zM278 108h4v4h-4zM202 164h4v4h-4zM298 212h4v4h-4zM198 276h4v4h-4zM266 320h4v4h-4zM314 400h4v4h-4zM242 416h4v4h-4zM218 436h4v4h-4zM262 492h4v4h-4zM242 512h4v4h-4zM306 536h4v4h-4zM194 548h4v4h-4z"/><path fill="#737373" d="M302 44h4v4h-4zM270 48h4v4h-4zM206 68h4v4h-4zM262 116h4v4h-4zM250 128h4v4h-4zM306 216h4v4h-4zM242 240h4v4h-4zM370 276h4v4h-4zM242 284h4v4h-4zM202 344h4v4h-4zM382 344h4v4h-4zM218 356h4v4h-4zM222 388h4v4h-4zM194 400h4v4h-4zM374 400h4v4h-4zM226 432h4v4h-4z"/><path fill="#747474" d="M222 88h4v4h-4zM302 112h4v4h-4zM234 148h4v4h-4zM230 152h4v4h-4zM354 160h4v4h-4zM194 164h4v4h-4zM370 164h4v4h-4zM258 220h4v4h-4zM334 256h4v4h-4zM326 268h4v4h-4zM350 272h4v4h-4zM202 276h4v4h-4zM310 312h4v4h-4zM226 380h4v4h-4zM298 388h4v4h-4zM310 396h4v4h-4zM198 400h4v4h-4zM370 400h4v4h-4zM318 404h4v4h-4zM362 440h4v4h-4zM310 540h4v4h-4zM374 548h4v4h-4z"/><path fill="#757575" d="M346 104h4v4h-4zM294 108h4v4h-4zM354 116h4v4h-4zM326 136h4v4h-4zM198 164h4v4h-4zM374 164h4v4h-4zM230 264h4v4h-4zM246 264h4v4h-4zM366 276h4v4h-4zM322 296h4v4h-4zM250 300h4v4h-4zM290 332h4v4h-4zM210 348h4v4h-4zM378 400h4v4h-4zM238 420h4v4h-4zM334 424h4v4h-4zM334 524h4v4h-4zM298 532h4v4h-4zM350 540h4v4h-4z"/><path fill="#767676" d="M350 112h4v4h-4zM246 132h4v4h-4zM346 156h4v4h-4zM226 268h4v4h-4zM346 364h4v4h-4zM214 396h4v4h-4zM338 428h4v4h-4zM206 440h4v4h-4zM306 492h4v4h-4zM198 548h4v4h-4zM370 548h4v4h-4zM314 552h4v4h-4zM314 556h4v4h-4z"/><path fill="#777777" d="M258 28h4v4h-4zM358 72h4v4h-4zM222 108h4v4h-4zM274 108h4v4h-4zM266 112h4v4h-4zM214 160h4v4h-4zM254 224h4v4h-4zM250 228h4v4h-4zM330 248h4v4h-4zM206 276h4v4h-4zM270 388h4v4h-4zM306 392h4v4h-4zM350 392h4v4h-4zM190 400h4v4h-4zM202 400h4v4h-4zM254 400h4v4h-4zM322 408h4v4h-4zM238 520h4v4h-4zM214 544h4v4h-4z"/><path fill="#787878" d="M210 120h4v4h-4zM330 140h4v4h-4zM222 156h4v4h-4zM274 212h4v4h-4zM322 232h4v4h-4zM234 260h4v4h-4zM342 376h4v4h-4zM258 396h4v4h-4zM250 404h4v4h-4zM354 436h4v4h-4zM270 532h4v4h-4zM262 536h4v4h-4zM202 548h4v4h-4zM258 568h4v4h-4z"/><path fill="#797979" d="M242 136h4v4h-4zM310 220h4v4h-4zM326 240h4v4h-4zM238 252h4v4h-4zM338 264h4v4h-4zM342 268h4v4h-4zM362 276h4v4h-4zM278 332h4v4h-4zM366 344h4v4h-4zM366 400h4v4h-4zM326 412h4v4h-4zM234 424h4v4h-4zM230 428h4v4h-4zM346 432h4v4h-4zM258 496h4v4h-4zM326 512h4v4h-4zM366 548h4v4h-4zM314 560h4v4h-4z"/><path fill="#7a7a7a" d="M314 120h4v4h-4zM294 212h4v4h-4zM310 260h4v4h-4zM242 268h4v4h-4zM222 272h4v4h-4zM242 288h4v4h-4zM262 316h4v4h-4zM354 352h4v4h-4zM286 384h4v4h-4zM346 388h4v4h-4zM382 400h4v4h-4zM214 436h4v4h-4zM246 508h4v4h-4zM230 532h4v4h-4zM226 536h4v4h-4zM258 540h4v4h-4zM354 544h4v4h-4zM314 548h4v4h-4z"/><path fill="#7b7b7b" d="M310 32h4v4h-4zM294 56h4v4h-4zM286 60h4v4h-4zM218 80h4v4h-4zM310 116h4v4h-4zM358 120h4v4h-4zM318 124h4v4h-4zM334 144h4v4h-4zM342 152h4v4h-4zM266 216h4v4h-4zM258 260h12v4h-12zM302 260h8v4h-8zM314 260h4v4h-4zM210 276h4v4h-4zM382 280h4v4h-4zM342 372h4v4h-4zM342 380h4v4h-4zM282 384h4v4h-4zM262 392h4v4h-4zM354 396h4v4h-4zM246 408h4v4h-4zM222 432h4v4h-4zM366 440h4v4h-4zM382 440h4v4h-4zM254 500h4v4h-4zM234 528h4v4h-4zM206 548h4v4h-4z"/><path fill="#7c7c7c" d="M362 68h4v4h-4zM298 108h4v4h-4zM238 140h4v4h-4zM358 160h4v4h-4zM314 224h4v4h-4zM242 244h4v4h-4zM254 260h4v4h-4zM270 260h8v4h-8zM298 260h4v4h-4zM334 260h4v4h-4zM346 272h4v4h-4zM358 276h4v4h-4zM226 384h4v4h-4zM290 384h4v4h-4zM302 388h4v4h-4zM330 416h4v4h-4zM266 492h4v4h-4zM250 504h4v4h-4zM330 520h4v4h-4zM302 532h4v4h-4zM222 540h4v4h-4zM362 548h4v4h-4z"/><path fill="#7d7d7d" d="M282 60h4v4h-4zM346 108h4v4h-4zM254 120h4v4h-4zM322 128h4v4h-4zM338 148h4v4h-4zM318 228h4v4h-4zM246 236h4v4h-4zM294 260h4v4h-4zM330 276h4v4h-4zM190 280h4v4h-4zM226 368h4v4h-4zM278 384h4v4h-4zM206 400h4v4h-4zM242 412h4v4h-4zM190 440h4v4h-4zM202 440h4v4h-4zM242 516h4v4h-4zM338 532h4v4h-4zM342 536h4v4h-4zM254 552h4v4h-4zM382 552h4v4h-4zM254 556h4v4h-4z"/><path fill="#7e7e7e" d="M354 76h4v4h-4zM270 108h4v4h-4zM306 112h4v4h-4zM258 116h4v4h-4zM250 124h4v4h-4zM234 144h4v4h-4zM226 152h4v4h-4zM350 156h4v4h-4zM210 160h4v4h-4zM278 212h4v4h-4zM330 252h4v4h-4zM238 256h4v4h-4zM278 260h16v4h-16zM318 260h4v4h-4zM214 276h4v4h-4zM330 280h4v4h-4zM378 280h4v4h-4zM326 292h4v4h-4zM294 384h4v4h-4zM318 400h4v4h-4zM334 420h4v4h-4zM378 440h4v4h-4zM302 492h4v4h-4zM310 496h4v4h-4zM346 540h4v4h-4zM314 544h4v4h-4z"/><path fill="#7f7f7f" d="M194 64h4v4h-4zM374 64h4v4h-4zM218 116h4v4h-4zM326 132h4v4h-4zM290 212h4v4h-4zM302 216h4v4h-4zM250 260h4v4h-4zM326 264h4v4h-4zM330 272h4v4h-4zM354 276h4v4h-4zM246 296h4v4h-4zM314 308h4v4h-4zM266 388h4v4h-4zM314 396h4v4h-4zM362 400h4v4h-4zM238 416h4v4h-4zM342 428h4v4h-4zM358 436h4v4h-4zM370 440h4v4h-4zM322 508h4v4h-4zM238 524h4v4h-4zM334 528h4v4h-4zM266 532h4v4h-4zM218 544h4v4h-4zM210 548h4v4h-4zM254 548h4v4h-4zM190 552h4v4h-4zM378 552h4v4h-4z"/><path fill="#808080" d="M306 40h4v4h-4zM378 64h4v4h-4zM226 100h4v4h-4zM222 112h4v4h-4zM262 112h4v4h-4zM246 128h4v4h-4zM330 136h4v4h-4zM230 148h4v4h-4zM218 156h4v4h-4zM282 212h4v4h-4zM234 264h4v4h-4zM230 268h4v4h-4zM218 276h4v4h-4zM194 280h4v4h-4zM358 348h4v4h-4zM274 384h4v4h-4zM222 392h4v4h-4zM310 392h4v4h-4zM322 404h4v4h-4zM338 424h4v4h-4zM350 432h4v4h-4zM210 436h4v4h-4zM194 440h8v4h-8zM314 500h4v4h-4zM358 548h4v4h-4z"/><path fill="#818181" d="M190 64h4v4h-4zM198 64h4v4h-4zM214 120h4v4h-4zM242 132h4v4h-4zM362 160h4v4h-4zM382 160h4v4h-4zM286 212h4v4h-4zM326 244h4v4h-4zM226 272h4v4h-4zM350 276h4v4h-4zM374 280h4v4h-4zM330 284h4v4h-4zM342 384h4v4h-4zM218 396h4v4h-4zM254 396h4v4h-4zM250 400h4v4h-4zM326 408h4v4h-4zM234 420h4v4h-4zM226 428h4v4h-4zM218 432h4v4h-4zM374 440h4v4h-4zM270 492h4v4h-4zM318 504h4v4h-4zM310 536h4v4h-4zM350 544h4v4h-4zM194 552h4v4h-4z"/><path fill="#828282" d="M370 64h4v4h-4zM382 64h4v4h-4zM346 88h4v4h-4zM226 104h4v4h-4zM350 116h4v4h-4zM318 120h4v4h-4zM194 124h4v4h-4zM374 124h4v4h-4zM238 136h4v4h-4zM334 140h4v4h-4zM346 152h4v4h-4zM206 160h4v4h-4zM242 248h4v4h-4zM330 256h4v4h-4zM322 260h4v4h-4zM242 264h4v4h-4zM334 264h4v4h-4zM338 268h4v4h-4zM342 272h4v4h-4zM238 276h4v4h-4zM198 280h8v4h-8zM238 280h4v4h-4zM370 280h4v4h-4zM298 384h4v4h-4zM226 388h4v4h-4zM306 388h4v4h-4zM258 392h4v4h-4zM246 404h4v4h-4zM230 424h4v4h-4zM298 492h4v4h-4zM326 516h4v4h-4zM330 524h4v4h-4zM230 536h4v4h-4zM254 544h4v4h-4zM214 548h4v4h-4zM374 552h4v4h-4zM254 560h4v4h-4z"/><path fill="#838383" d="M266 44h4v4h-4zM290 60h4v4h-4zM226 96h4v4h-4zM302 108h4v4h-4zM346 112h4v4h-4zM314 116h4v4h-4zM354 120h4v4h-4zM198 124h4v4h-4zM322 124h4v4h-4zM370 124h4v4h-4zM378 124h4v4h-4zM338 144h4v4h-4zM262 220h4v4h-4zM322 236h4v4h-4zM238 260h4v4h-4zM246 260h4v4h-4zM330 268h4v4h-4zM238 272h4v4h-4zM222 276h4v4h-4zM366 280h4v4h-4zM258 312h4v4h-4zM294 332h4v4h-4zM350 356h4v4h-4zM270 384h4v4h-4zM262 388h4v4h-4zM346 392h4v4h-4zM350 396h4v4h-4zM210 400h4v4h-4zM242 408h4v4h-4zM330 412h4v4h-4zM234 532h4v4h-4zM258 536h4v4h-4zM226 540h4v4h-4zM314 540h4v4h-4zM354 548h4v4h-4zM198 552h8v4h-8zM370 552h4v4h-4z"/><path fill="#848484" d="M314 24h4v4h-4zM226 108h4v4h-4zM310 112h4v4h-4zM254 116h4v4h-4zM250 120h4v4h-4zM190 124h4v4h-4zM246 124h4v4h-4zM326 128h4v4h-4zM234 140h4v4h-4zM342 148h4v4h-4zM222 152h4v4h-4zM354 156h4v4h-4zM190 160h4v4h-4zM270 216h4v4h-4zM330 260h4v4h-4zM238 268h4v4h-4zM346 276h4v4h-4zM206 280h4v4h-4zM362 280h4v4h-4zM238 284h4v4h-4zM298 328h4v4h-4zM230 380h4v4h-4zM342 388h4v4h-4zM318 396h4v4h-4zM322 400h4v4h-4zM358 400h4v4h-4zM238 412h4v4h-4zM334 416h4v4h-4zM346 428h4v4h-4zM362 436h4v4h-4zM274 492h4v4h-4zM246 512h4v4h-4zM242 520h4v4h-4zM238 528h4v4h-4zM306 532h4v4h-4zM334 532h4v4h-4zM338 536h4v4h-4zM342 540h4v4h-4zM222 544h4v4h-4zM366 552h4v4h-4zM314 564h4v4h-4z"/><path fill="#858585" d="M298 52h4v4h-4zM342 100h4v4h-4zM342 104h4v4h-4zM266 108h4v4h-4zM258 112h4v4h-4zM222 116h4v4h-4zM202 124h4v4h-4zM382 124h4v4h-4zM242 128h4v4h-4zM330 132h4v4h-4zM334 136h4v4h-4zM230 144h4v4h-4zM226 148h4v4h-4zM214 156h4v4h-4zM366 160h4v4h-4zM378 160h4v4h-4zM250 232h4v4h-4zM246 240h4v4h-4zM326 248h4v4h-4zM242 252h4v4h-4zM326 260h4v4h-4zM238 264h4v4h-4zM330 264h4v4h-4zM234 268h4v4h-4zM334 268h4v4h-4zM230 272h4v4h-4zM210 280h4v4h-4zM358 280h4v4h-4zM330 288h4v4h-4zM302 384h4v4h-4zM310 388h4v4h-4zM254 392h4v4h-4zM314 392h4v4h-4zM250 396h4v4h-4zM246 400h4v4h-4zM326 404h4v4h-4zM234 416h4v4h-4zM338 420h4v4h-4zM342 424h4v4h-4zM222 428h4v4h-4zM354 432h4v4h-4zM206 436h4v4h-4zM294 492h4v4h-4zM330 528h4v4h-4zM262 532h4v4h-4zM254 540h4v4h-4zM346 544h4v4h-4zM218 548h4v4h-4zM318 548h4v4h-4zM206 552h4v4h-4zM318 552h4v4h-4zM362 552h4v4h-4zM190 556h4v4h-4zM382 556h4v4h-4z"/><path fill="#868686" d="M342 108h4v4h-4zM226 112h4v4h-4zM250 116h4v4h-4zM318 116h4v4h-4zM346 116h4v4h-4zM218 120h4v4h-4zM246 120h4v4h-4zM322 120h4v4h-4zM242 124h4v4h-4zM326 124h4v4h-4zM366 124h4v4h-4zM330 128h4v4h-4zM238 132h4v4h-4zM234 136h4v4h-4zM338 140h4v4h-4zM202 160h4v4h-4zM298 216h4v4h-4zM306 220h4v4h-4zM242 256h4v4h-4zM242 260h4v4h-4zM234 272h4v4h-4zM334 272h8v4h-8zM226 276h4v4h-4zM334 276h4v4h-4zM342 276h4v4h-4zM214 280h8v4h-8zM334 280h4v4h-4zM354 280h4v4h-4zM242 292h4v4h-4zM222 360h4v4h-4zM230 376h4v4h-4zM338 380h4v4h-4zM230 384h4v4h-4zM266 384h4v4h-4zM338 384h4v4h-4zM258 388h4v4h-4zM226 392h4v4h-4zM318 392h4v4h-4zM342 392h4v4h-4zM222 396h4v4h-4zM322 396h4v4h-4zM214 400h4v4h-4zM242 404h4v4h-4zM238 408h4v4h-4zM330 408h4v4h-4zM334 412h4v4h-4zM230 420h4v4h-4zM226 424h4v4h-4zM214 432h4v4h-4zM278 492h4v4h-4zM290 492h4v4h-4zM262 496h4v4h-4zM326 520h4v4h-4zM282 528h8v4h-8zM238 532h4v4h-4zM234 536h4v4h-4zM314 536h4v4h-4zM334 536h4v4h-4zM230 540h4v4h-4zM338 540h4v4h-4zM226 544h4v4h-4zM318 544h4v4h-4zM342 544h4v4h-4zM250 548h4v4h-4zM350 548h4v4h-4zM210 552h4v4h-4zM250 552h4v4h-4zM358 552h4v4h-4zM194 556h8v4h-8zM370 556h12v4h-12z"/><path fill="#878787" d="M274 56h4v4h-4zM230 108h4v4h-4zM338 108h4v4h-4zM230 112h8v4h-8zM314 112h4v4h-4zM334 112h12v4h-12zM226 116h24v4h-24zM322 116h24v4h-24zM222 120h24v4h-24zM326 120h28v4h-28zM206 124h4v4h-4zM226 124h16v4h-16zM330 124h16v4h-16zM230 128h12v4h-12zM334 128h8v4h-8zM230 132h8v4h-8zM334 132h8v4h-8zM230 136h4v4h-4zM338 136h4v4h-4zM230 140h4v4h-4zM226 144h4v4h-4zM342 144h4v4h-4zM346 148h4v4h-4zM350 152h4v4h-4zM194 160h4v4h-4zM370 160h4v4h-4zM258 224h4v4h-4zM254 228h4v4h-4zM326 252h4v4h-4zM326 256h4v4h-4zM230 276h8v4h-8zM338 276h4v4h-4zM222 280h16v4h-16zM338 280h16v4h-16zM334 284h4v4h-4zM234 384h4v4h-4zM306 384h4v4h-4zM230 388h20v4h-20zM254 388h4v4h-4zM314 388h28v4h-28zM230 392h24v4h-24zM322 392h20v4h-20zM226 396h24v4h-24zM326 396h24v4h-24zM226 400h20v4h-20zM326 400h20v4h-20zM354 400h4v4h-4zM230 404h12v4h-12zM330 404h12v4h-12zM230 408h8v4h-8zM334 408h8v4h-8zM230 412h8v4h-8zM338 412h4v4h-4zM230 416h4v4h-4zM338 416h4v4h-4zM342 420h4v4h-4zM350 428h4v4h-4zM382 436h4v4h-4zM282 492h8v4h-8zM242 524h4v4h-4zM242 528h4v4h-4zM278 528h4v4h-4zM290 528h4v4h-4zM242 532h4v4h-4zM330 532h4v4h-4zM238 536h8v4h-8zM254 536h4v4h-4zM326 536h8v4h-8zM234 540h20v4h-20zM318 540h20v4h-20zM230 544h24v4h-24zM322 544h20v4h-20zM222 548h28v4h-28zM322 548h28v4h-28zM214 552h4v4h-4zM354 552h4v4h-4zM202 556h8v4h-8zM318 556h4v4h-4zM362 556h8v4h-8zM190 560h16v4h-16zM370 560h16v4h-16zM190 564h12v4h-12zM374 564h12v4h-12zM190 568h8v4h-8zM374 568h12v4h-12z"/><path fill="#888888" d="M278 60h4v4h-4zM202 64h4v4h-4zM230 104h4v4h-4zM274 104h24v4h-24zM234 108h4v4h-4zM238 112h20v4h-20zM318 112h16v4h-16zM222 124h4v4h-4zM346 124h8v4h-8zM362 124h4v4h-4zM222 128h8v4h-8zM342 128h8v4h-8zM226 132h4v4h-4zM342 132h4v4h-4zM226 136h4v4h-4zM342 136h4v4h-4zM226 140h4v4h-4zM342 140h4v4h-4zM222 148h4v4h-4zM218 152h4v4h-4zM198 160h4v4h-4zM374 160h4v4h-4zM246 256h4v4h-4zM322 256h4v4h-4zM234 284h4v4h-4zM238 288h4v4h-4zM318 304h4v4h-4zM302 324h4v4h-4zM274 380h4v4h-4zM298 380h4v4h-4zM238 384h4v4h-4zM262 384h4v4h-4zM330 384h8v4h-8zM250 388h4v4h-4zM218 400h8v4h-8zM346 400h8v4h-8zM226 404h4v4h-4zM342 404h8v4h-8zM226 408h4v4h-4zM342 408h4v4h-4zM226 412h4v4h-4zM342 412h4v4h-4zM226 416h4v4h-4zM342 416h4v4h-4zM226 420h4v4h-4zM222 424h4v4h-4zM346 424h4v4h-4zM218 428h4v4h-4zM366 436h4v4h-4zM306 496h4v4h-4zM322 512h4v4h-4zM326 524h4v4h-4zM326 528h4v4h-4zM246 532h8v4h-8zM258 532h4v4h-4zM310 532h4v4h-4zM318 532h12v4h-12zM246 536h8v4h-8zM318 536h8v4h-8zM218 552h4v4h-4zM246 552h4v4h-4zM322 552h4v4h-4zM350 552h4v4h-4zM210 556h4v4h-4zM366 560h4v4h-4zM370 564h4v4h-4zM198 568h4v4h-4z"/><path fill="#898989" d="M338 104h4v4h-4zM306 108h4v4h-4zM334 108h4v4h-4zM210 124h12v4h-12zM354 124h8v4h-8zM222 132h4v4h-4zM346 132h4v4h-4zM222 136h4v4h-4zM346 136h4v4h-4zM346 140h4v4h-4zM222 144h4v4h-4zM346 144h4v4h-4zM358 156h4v4h-4zM274 216h4v4h-4zM318 232h4v4h-4zM322 240h4v4h-4zM246 244h4v4h-4zM250 256h12v4h-12zM314 256h8v4h-8zM194 284h8v4h-8zM230 284h4v4h-4zM338 284h8v4h-8zM370 284h8v4h-8zM274 332h4v4h-4zM286 336h4v4h-4zM206 344h4v4h-4zM338 376h4v4h-4zM234 380h4v4h-4zM270 380h4v4h-4zM294 380h4v4h-4zM242 384h4v4h-4zM310 384h4v4h-4zM326 384h4v4h-4zM222 404h4v4h-4zM222 408h4v4h-4zM346 408h4v4h-4zM346 412h4v4h-4zM346 416h4v4h-4zM222 420h4v4h-4zM346 420h4v4h-4zM358 432h4v4h-4zM190 436h4v4h-4zM202 436h4v4h-4zM378 436h4v4h-4zM258 500h4v4h-4zM250 508h4v4h-4zM246 516h4v4h-4zM246 528h8v4h-8zM274 528h4v4h-4zM294 528h4v4h-4zM322 528h4v4h-4zM254 532h4v4h-4zM314 532h4v4h-4zM222 552h4v4h-4zM242 552h4v4h-4zM326 552h8v4h-8zM346 552h4v4h-4zM250 556h4v4h-4zM358 556h4v4h-4zM206 560h4v4h-4zM202 564h4v4h-4zM370 568h4v4h-4z"/><path fill="#8a8a8a" d="M258 32h4v4h-4zM350 80h4v4h-4zM342 96h4v4h-4zM298 104h4v4h-4zM238 108h4v4h-4zM262 108h4v4h-4zM218 128h4v4h-4zM350 128h4v4h-4zM222 140h4v4h-4zM350 148h4v4h-4zM210 156h4v4h-4zM294 216h4v4h-4zM310 224h4v4h-4zM246 248h4v4h-4zM246 252h4v4h-4zM322 252h4v4h-4zM262 256h4v4h-4zM310 256h4v4h-4zM190 284h4v4h-4zM202 284h4v4h-4zM222 284h8v4h-8zM346 284h4v4h-4zM366 284h4v4h-4zM378 284h4v4h-4zM282 336h4v4h-4zM342 368h4v4h-4zM278 380h4v4h-4zM290 380h4v4h-4zM302 380h4v4h-4zM334 380h4v4h-4zM246 384h4v4h-4zM258 384h4v4h-4zM322 384h4v4h-4zM218 404h4v4h-4zM350 404h4v4h-4zM222 412h4v4h-4zM222 416h4v4h-4zM350 424h4v4h-4zM210 432h4v4h-4zM194 436h4v4h-4zM370 436h4v4h-4zM254 504h4v4h-4zM246 520h4v4h-4zM246 524h4v4h-4zM322 524h4v4h-4zM254 528h4v4h-4zM270 528h4v4h-4zM298 528h4v4h-4zM314 528h8v4h-8zM226 552h16v4h-16zM334 552h12v4h-12zM214 556h4v4h-4zM362 560h4v4h-4zM366 564h4v4h-4z"/><path fill="#8b8b8b" d="M254 24h4v4h-4zM330 108h4v4h-4zM218 132h4v4h-4zM350 132h4v4h-4zM350 136h4v4h-4zM350 144h4v4h-4zM218 148h4v4h-4zM354 152h4v4h-4zM314 228h4v4h-4zM322 244h4v4h-4zM322 248h4v4h-4zM266 256h4v4h-4zM306 256h4v4h-4zM206 284h4v4h-4zM218 284h4v4h-4zM350 284h8v4h-8zM362 284h4v4h-4zM382 284h4v4h-4zM290 336h4v4h-4zM282 380h8v4h-8zM250 384h8v4h-8zM314 384h8v4h-8zM350 408h4v4h-4zM350 420h4v4h-4zM218 424h4v4h-4zM214 428h4v4h-4zM354 428h4v4h-4zM198 436h4v4h-4zM374 436h4v4h-4zM322 516h4v4h-4zM322 520h4v4h-4zM250 524h4v4h-4zM318 524h4v4h-4zM258 528h12v4h-12zM302 528h12v4h-12zM354 556h4v4h-4z"/><path fill="#8c8c8c" d="M226 92h4v4h-4zM234 104h4v4h-4zM270 104h4v4h-4zM242 108h4v4h-4zM310 108h4v4h-4zM354 128h4v4h-4zM218 136h4v4h-4zM350 140h4v4h-4zM218 144h4v4h-4zM214 152h4v4h-4zM278 216h4v4h-4zM266 220h4v4h-4zM250 236h4v4h-4zM250 252h4v4h-4zM318 252h4v4h-4zM270 256h4v4h-4zM298 256h8v4h-8zM210 284h8v4h-8zM358 284h4v4h-4zM334 288h4v4h-4zM238 380h4v4h-4zM266 380h4v4h-4zM354 404h4v4h-4zM218 408h4v4h-4zM218 412h4v4h-4zM350 412h4v4h-4zM350 416h4v4h-4zM218 420h4v4h-4zM266 496h4v4h-4zM310 500h4v4h-4zM318 508h4v4h-4zM202 568h4v4h-4z"/><path fill="#8d8d8d" d="M382 24h4v4h-4zM366 64h4v4h-4zM222 84h4v4h-4zM230 100h4v4h-4zM258 108h4v4h-4zM326 108h4v4h-4zM214 128h4v4h-4zM218 140h4v4h-4zM362 156h4v4h-4zM382 156h4v4h-4zM282 216h4v4h-4zM290 216h4v4h-4zM302 220h4v4h-4zM254 252h4v4h-4zM314 252h4v4h-4zM274 256h4v4h-4zM294 256h4v4h-4zM234 288h4v4h-4zM254 308h4v4h-4zM278 336h4v4h-4zM230 372h4v4h-4zM274 376h4v4h-4zM294 376h4v4h-4zM214 404h4v4h-4zM218 416h4v4h-4zM354 424h4v4h-4zM206 432h4v4h-4zM362 432h4v4h-4zM314 504h4v4h-4zM250 520h4v4h-4zM254 524h4v4h-4zM314 524h4v4h-4zM322 556h4v4h-4zM210 560h4v4h-4zM206 564h4v4h-4z"/><path fill="#8e8e8e" d="M334 104h4v4h-4zM246 108h4v4h-4zM354 132h4v4h-4zM354 148h4v4h-4zM206 156h4v4h-4zM286 216h4v4h-4zM250 248h4v4h-4zM318 248h4v4h-4zM258 252h4v4h-4zM278 256h16v4h-16zM270 328h4v4h-4zM298 376h4v4h-4zM306 380h4v4h-4zM330 380h4v4h-4zM358 428h4v4h-4zM382 432h4v4h-4zM302 496h4v4h-4zM250 512h4v4h-4zM250 516h4v4h-4zM318 520h4v4h-4zM258 524h4v4h-4zM310 524h4v4h-4zM218 556h4v4h-4zM246 556h4v4h-4zM366 568h4v4h-4z"/><path fill="#8f8f8f" d="M190 24h4v4h-4zM382 28h4v4h-4zM286 64h4v4h-4zM254 108h4v4h-4zM314 108h4v4h-4zM322 108h4v4h-4zM358 128h4v4h-4zM214 132h4v4h-4zM214 148h4v4h-4zM358 152h4v4h-4zM190 156h4v4h-4zM318 236h4v4h-4zM250 240h4v4h-4zM250 244h4v4h-4zM310 252h4v4h-4zM338 288h4v4h-4zM270 376h4v4h-4zM358 404h4v4h-4zM354 408h4v4h-4zM354 420h4v4h-4zM214 424h4v4h-4zM210 428h4v4h-4zM190 432h4v4h-4zM318 512h4v4h-4zM318 516h4v4h-4zM254 520h4v4h-4zM350 556h4v4h-4zM358 560h4v4h-4zM254 564h4v4h-4z"/><path fill="#909090" d="M206 24h4v4h-4zM362 24h4v4h-4zM378 24h4v4h-4zM314 28h4v4h-4zM262 40h4v4h-4zM382 60h4v4h-4zM282 64h4v4h-4zM338 100h4v4h-4zM250 108h4v4h-4zM318 108h4v4h-4zM210 128h4v4h-4zM354 136h4v4h-4zM354 140h4v4h-4zM354 144h4v4h-4zM210 152h4v4h-4zM366 156h4v4h-4zM378 156h4v4h-4zM270 220h4v4h-4zM262 224h4v4h-4zM318 244h4v4h-4zM254 248h4v4h-4zM314 248h4v4h-4zM262 252h4v4h-4zM306 252h4v4h-4zM230 288h4v4h-4zM330 292h4v4h-4zM322 300h4v4h-4zM306 320h4v4h-4zM234 376h4v4h-4zM278 376h4v4h-4zM262 380h4v4h-4zM210 404h4v4h-4zM214 408h4v4h-4zM354 412h4v4h-4zM354 416h4v4h-4zM202 432h4v4h-4zM366 432h4v4h-4zM378 432h4v4h-4zM270 496h4v4h-4zM314 520h4v4h-4zM262 524h4v4h-4zM306 524h4v4h-4zM222 556h4v4h-4zM326 556h4v4h-4zM318 560h4v4h-4zM362 564h4v4h-4z"/><path fill="#919191" d="M202 24h4v4h-4zM366 24h4v4h-4zM382 32h4v4h-4zM302 104h4v4h-4zM214 136h4v4h-4zM214 144h4v4h-4zM202 156h4v4h-4zM298 220h4v4h-4zM258 228h4v4h-4zM254 232h4v4h-4zM318 240h4v4h-4zM290 376h4v4h-4zM242 380h4v4h-4zM382 404h4v4h-4zM214 412h4v4h-4zM214 420h4v4h-4zM194 432h8v4h-8zM370 432h8v4h-8zM298 496h4v4h-4zM262 500h4v4h-4zM254 508h4v4h-4zM266 524h4v4h-4zM242 556h4v4h-4zM346 556h4v4h-4z"/><path fill="#929292" d="M194 24h8v4h-8zM210 24h4v4h-4zM370 24h8v4h-8zM190 28h4v4h-4zM210 68h4v4h-4zM214 140h4v4h-4zM194 156h8v4h-8zM370 156h8v4h-8zM306 224h4v4h-4zM254 244h4v4h-4zM258 248h4v4h-4zM266 252h4v4h-4zM302 252h4v4h-4zM342 288h4v4h-4zM362 344h4v4h-4zM294 372h4v4h-4zM326 380h4v4h-4zM362 404h4v4h-4zM214 416h4v4h-4zM358 424h4v4h-4zM274 496h4v4h-4zM258 504h4v4h-4zM254 516h4v4h-4zM258 520h4v4h-4zM310 520h4v4h-4zM302 524h4v4h-4zM330 556h4v4h-4z"/><path fill="#939393" d="M378 28h4v4h-4zM382 56h4v4h-4zM190 60h4v4h-4zM294 100h4v4h-4zM238 104h4v4h-4zM266 104h4v4h-4zM362 128h4v4h-4zM382 128h4v4h-4zM358 132h4v4h-4zM358 148h4v4h-4zM274 220h4v4h-4zM310 228h4v4h-4zM314 232h4v4h-4zM314 244h4v4h-4zM310 248h4v4h-4zM270 252h4v4h-4zM298 252h4v4h-4zM226 288h4v4h-4zM326 296h4v4h-4zM294 336h4v4h-4zM274 372h4v4h-4zM338 372h4v4h-4zM282 376h8v4h-8zM334 376h4v4h-4zM310 380h4v4h-4zM190 404h4v4h-4zM206 404h4v4h-4zM378 404h4v4h-4zM362 428h4v4h-4zM382 428h4v4h-4zM294 496h4v4h-4zM306 500h4v4h-4zM314 508h4v4h-4zM254 512h4v4h-4zM314 516h4v4h-4zM270 524h4v4h-4zM298 524h4v4h-4zM226 556h4v4h-4zM238 556h4v4h-4z"/><path fill="#949494" d="M358 24h4v4h-4zM310 36h4v4h-4zM382 36h4v4h-4zM270 52h4v4h-4zM378 60h4v4h-4zM214 72h4v4h-4zM274 100h8v4h-8zM290 100h4v4h-4zM206 128h4v4h-4zM362 152h4v4h-4zM382 152h4v4h-4zM294 220h4v4h-4zM254 236h4v4h-4zM254 240h4v4h-4zM262 248h4v4h-4zM274 252h4v4h-4zM198 288h4v4h-4zM238 292h4v4h-4zM250 304h4v4h-4zM266 324h4v4h-4zM282 340h12v4h-12zM346 360h4v4h-4zM278 372h4v4h-4zM302 376h4v4h-4zM246 380h4v4h-4zM258 380h4v4h-4zM358 408h4v4h-4zM210 424h4v4h-4zM206 428h4v4h-4zM278 496h16v4h-16zM310 504h4v4h-4zM314 512h4v4h-4zM262 520h4v4h-4zM274 524h4v4h-4zM294 524h4v4h-4zM334 556h4v4h-4zM342 556h4v4h-4zM214 560h4v4h-4zM250 560h4v4h-4z"/><path fill="#959595" d="M318 24h4v4h-4zM382 40h4v4h-4zM382 52h4v4h-4zM290 64h4v4h-4zM210 132h4v4h-4zM210 148h4v4h-4zM206 152h4v4h-4zM278 220h8v4h-8zM290 220h4v4h-4zM266 224h4v4h-4zM314 236h4v4h-4zM314 240h4v4h-4zM258 244h4v4h-4zM306 248h4v4h-4zM278 252h4v4h-4zM290 252h8v4h-8zM346 288h4v4h-4zM370 288h8v4h-8zM278 340h4v4h-4zM226 364h4v4h-4zM290 372h4v4h-4zM194 404h12v4h-12zM366 404h12v4h-12zM358 420h4v4h-4zM258 516h4v4h-4zM306 520h4v4h-4zM278 524h16v4h-16zM230 556h8v4h-8zM338 556h4v4h-4z"/><path fill="#969696" d="M194 28h4v4h-4zM202 28h4v4h-4zM366 28h4v4h-4zM374 28h4v4h-4zM190 32h4v4h-4zM382 44h4v4h-4zM302 48h4v4h-4zM382 48h4v4h-4zM194 60h4v4h-4zM342 92h4v4h-4zM282 100h4v4h-4zM330 104h4v4h-4zM190 128h4v4h-4zM378 128h4v4h-4zM358 136h4v4h-4zM358 144h4v4h-4zM286 220h4v4h-4zM302 224h4v4h-4zM310 244h4v4h-4zM282 252h8v4h-8zM202 288h4v4h-4zM222 288h4v4h-4zM298 372h4v4h-4zM322 380h4v4h-4zM210 408h4v4h-4zM358 412h4v4h-4zM190 428h4v4h-4zM366 428h4v4h-4zM378 428h4v4h-4zM266 500h4v4h-4zM258 508h4v4h-4zM310 516h4v4h-4zM206 568h4v4h-4z"/><path fill="#979797" d="M198 28h4v4h-4zM206 28h4v4h-4zM370 28h4v4h-4zM378 32h4v4h-4zM294 60h4v4h-4zM374 60h4v4h-4zM286 68h4v4h-4zM230 96h4v4h-4zM234 100h4v4h-4zM286 100h4v4h-4zM202 128h4v4h-4zM366 128h4v4h-4zM358 140h4v4h-4zM190 152h4v4h-4zM262 228h4v4h-4zM258 232h4v4h-4zM266 248h4v4h-4zM302 248h4v4h-4zM194 288h4v4h-4zM366 288h4v4h-4zM218 352h4v4h-4zM266 376h4v4h-4zM250 380h8v4h-8zM314 380h4v4h-4zM358 416h4v4h-4zM210 420h4v4h-4zM202 428h4v4h-4zM302 500h4v4h-4zM258 512h4v4h-4zM266 520h4v4h-4zM302 520h4v4h-4zM354 560h4v4h-4z"/><path fill="#989898" d="M206 64h4v4h-4zM282 68h4v4h-4zM298 100h4v4h-4zM306 104h4v4h-4zM194 128h8v4h-8zM370 128h8v4h-8zM210 136h4v4h-4zM210 144h4v4h-4zM366 152h4v4h-4zM378 152h4v4h-4zM270 224h4v4h-4zM306 228h4v4h-4zM310 232h4v4h-4zM258 240h4v4h-4zM350 288h4v4h-4zM310 316h4v4h-4zM274 336h4v4h-4zM214 348h4v4h-4zM282 372h4v4h-4zM318 380h4v4h-4zM210 412h4v4h-4zM362 424h4v4h-4zM382 424h4v4h-4zM194 428h4v4h-4zM262 504h4v4h-4zM310 508h4v4h-4zM310 512h4v4h-4zM262 516h4v4h-4zM210 564h4v4h-4zM314 568h4v4h-4z"/><path fill="#999999" d="M214 24h4v4h-4zM250 24h4v4h-4zM254 28h4v4h-4zM362 28h4v4h-4zM190 36h4v4h-4zM190 56h4v4h-4zM198 60h4v4h-4zM278 64h4v4h-4zM362 132h4v4h-4zM382 132h4v4h-4zM210 140h4v4h-4zM362 148h4v4h-4zM382 148h4v4h-4zM202 152h4v4h-4zM298 224h4v4h-4zM258 236h4v4h-4zM310 240h4v4h-4zM262 244h4v4h-4zM306 244h4v4h-4zM270 248h4v4h-4zM298 248h4v4h-4zM206 288h4v4h-4zM218 288h4v4h-4zM334 292h4v4h-4zM242 296h4v4h-4zM246 300h4v4h-4zM298 332h4v4h-4zM198 340h4v4h-4zM278 368h4v4h-4zM294 368h4v4h-4zM286 372h4v4h-4zM238 376h4v4h-4zM210 416h4v4h-4zM198 428h4v4h-4zM370 428h8v4h-8zM270 500h4v4h-4zM298 500h4v4h-4zM306 504h4v4h-4zM306 516h4v4h-4zM270 520h4v4h-4z"/><path fill="#9a9a9a" d="M194 32h4v4h-4zM378 36h4v4h-4zM378 56h4v4h-4zM370 60h4v4h-4zM346 84h4v4h-4zM262 104h4v4h-4zM194 152h4v4h-4zM274 224h4v4h-4zM310 236h4v4h-4zM214 288h4v4h-4zM354 288h4v4h-4zM362 288h4v4h-4zM378 288h4v4h-4zM370 340h4v4h-4zM282 344h12v4h-12zM274 368h4v4h-4zM290 368h4v4h-4zM270 372h4v4h-4zM362 408h4v4h-4zM382 408h4v4h-4zM206 424h4v4h-4zM298 520h4v4h-4z"/><path fill="#9b9b9b" d="M374 32h4v4h-4zM190 40h4v4h-4zM190 52h4v4h-4zM278 96h4v4h-4zM290 96h4v4h-4zM270 100h4v4h-4zM334 100h4v4h-4zM242 104h4v4h-4zM206 132h4v4h-4zM206 148h4v4h-4zM198 152h4v4h-4zM370 152h8v4h-8zM294 224h4v4h-4zM266 228h4v4h-4zM262 232h4v4h-4zM274 248h4v4h-4zM294 248h4v4h-4zM210 288h4v4h-4zM358 288h4v4h-4zM294 340h4v4h-4zM374 340h4v4h-4zM278 344h4v4h-4zM274 500h4v4h-4zM294 500h4v4h-4zM262 508h4v4h-4zM262 512h4v4h-4zM274 520h4v4h-4zM322 560h4v4h-4zM362 568h4v4h-4z"/><path fill="#9c9c9c" d="M354 24h4v4h-4zM198 32h8v4h-8zM370 32h4v4h-4zM358 68h4v4h-4zM338 96h4v4h-4zM278 224h4v4h-4zM290 224h4v4h-4zM302 228h4v4h-4zM306 232h4v4h-4zM262 240h4v4h-4zM306 240h4v4h-4zM266 244h4v4h-4zM302 244h4v4h-4zM278 248h4v4h-4zM290 248h4v4h-4zM190 288h4v4h-4zM234 292h4v4h-4zM194 340h4v4h-4zM330 376h4v4h-4zM206 408h4v4h-4zM190 424h4v4h-4zM266 504h4v4h-4zM302 504h4v4h-4zM306 508h4v4h-4zM306 512h4v4h-4zM266 516h4v4h-4zM294 520h4v4h-4zM358 564h4v4h-4z"/><path fill="#9d9d9d" d="M366 32h4v4h-4zM378 40h4v4h-4zM190 44h4v4h-4zM190 48h4v4h-4zM378 52h4v4h-4zM286 72h4v4h-4zM218 76h4v4h-4zM226 88h4v4h-4zM282 96h4v4h-4zM294 96h4v4h-4zM310 104h4v4h-4zM326 104h4v4h-4zM282 224h8v4h-8zM262 236h4v4h-4zM282 248h8v4h-8zM262 320h4v4h-4zM278 364h4v4h-4zM282 368h4v4h-4zM362 420h4v4h-4zM382 420h4v4h-4zM278 500h4v4h-4zM290 500h4v4h-4zM302 516h4v4h-4zM278 520h4v4h-4zM290 520h4v4h-4zM218 560h4v4h-4zM246 560h4v4h-4z"/><path fill="#9e9e9e" d="M194 36h4v4h-4zM194 56h4v4h-4zM202 60h4v4h-4zM362 64h4v4h-4zM290 68h4v4h-4zM282 72h4v4h-4zM286 96h4v4h-4zM190 132h4v4h-4zM362 136h4v4h-4zM382 136h4v4h-4zM362 144h4v4h-4zM382 144h4v4h-4zM190 148h4v4h-4zM270 228h4v4h-4zM306 236h4v4h-4zM270 244h4v4h-4zM382 288h4v4h-4zM190 340h4v4h-4zM378 340h8v4h-8zM290 348h4v4h-4zM290 364h4v4h-4zM230 368h4v4h-4zM286 368h4v4h-4zM234 372h4v4h-4zM306 376h4v4h-4zM362 412h4v4h-4zM382 412h4v4h-4zM366 424h4v4h-4zM378 424h4v4h-4zM282 500h8v4h-8zM282 520h8v4h-8z"/><path fill="#9f9f9f" d="M210 28h4v4h-4zM374 36h4v4h-4zM378 44h4v4h-4zM378 48h4v4h-4zM374 56h4v4h-4zM274 60h4v4h-4zM258 104h4v4h-4zM366 132h4v4h-4zM378 132h4v4h-4zM362 140h4v4h-4zM382 140h4v4h-4zM366 148h4v4h-4zM378 148h4v4h-4zM298 228h4v4h-4zM266 232h4v4h-4zM266 240h4v4h-4zM298 244h4v4h-4zM282 348h8v4h-8zM294 364h4v4h-4zM190 408h4v4h-4zM362 416h4v4h-4zM382 416h4v4h-4zM206 420h4v4h-4zM202 424h4v4h-4zM270 504h4v4h-4zM266 508h4v4h-4zM266 512h4v4h-4zM270 516h4v4h-4zM350 560h4v4h-4z"/><path fill="#a0a0a0" d="M322 24h4v4h-4zM354 72h4v4h-4zM274 96h4v4h-4zM246 104h4v4h-4zM202 132h4v4h-4zM206 136h4v4h-4zM206 144h4v4h-4zM302 232h4v4h-4zM266 236h4v4h-4zM302 240h4v4h-4zM314 312h4v4h-4zM202 340h4v4h-4zM274 340h4v4h-4zM278 348h4v4h-4zM290 360h4v4h-4zM342 364h4v4h-4zM366 408h4v4h-4zM378 408h4v4h-4zM206 412h4v4h-4zM194 424h4v4h-4zM298 504h4v4h-4zM302 508h4v4h-4zM302 512h4v4h-4zM298 516h4v4h-4z"/><path fill="#a1a1a1" d="M206 32h4v4h-4zM198 36h4v4h-4zM370 36h4v4h-4zM198 56h4v4h-4zM298 56h4v4h-4zM290 92h4v4h-4zM322 104h4v4h-4zM206 140h4v4h-4zM202 148h4v4h-4zM274 228h4v4h-4zM294 228h4v4h-4zM302 236h4v4h-4zM274 244h4v4h-4zM294 244h4v4h-4zM338 292h4v4h-4zM270 332h4v4h-4zM290 352h4v4h-4zM278 360h4v4h-4zM282 364h4v4h-4zM262 376h4v4h-4zM206 416h4v4h-4zM198 424h4v4h-4zM370 424h8v4h-8zM318 564h4v4h-4z"/><path fill="#a2a2a2" d="M218 24h4v4h-4zM258 36h4v4h-4zM194 40h4v4h-4zM306 44h4v4h-4zM194 52h4v4h-4zM366 60h4v4h-4zM278 68h4v4h-4zM286 76h4v4h-4zM278 92h8v4h-8zM254 104h4v4h-4zM314 104h4v4h-4zM194 132h4v4h-4zM194 148h4v4h-4zM278 228h4v4h-4zM270 232h4v4h-4zM270 240h4v4h-4zM278 244h4v4h-4zM294 344h4v4h-4zM354 348h4v4h-4zM282 352h4v4h-4zM278 356h4v4h-4zM290 356h4v4h-4zM274 364h4v4h-4zM286 364h4v4h-4zM202 408h4v4h-4zM190 420h4v4h-4zM274 504h4v4h-4zM294 504h4v4h-4zM274 516h4v4h-4zM294 516h4v4h-4zM326 560h4v4h-4z"/><path fill="#a3a3a3" d="M246 24h4v4h-4zM358 28h4v4h-4zM314 32h4v4h-4zM202 36h4v4h-4zM374 40h4v4h-4zM194 44h4v4h-4zM194 48h4v4h-4zM374 52h4v4h-4zM370 56h4v4h-4zM282 76h4v4h-4zM286 92h4v4h-4zM302 100h4v4h-4zM250 104h4v4h-4zM318 104h4v4h-4zM198 132h4v4h-4zM370 132h8v4h-8zM190 136h4v4h-4zM190 144h4v4h-4zM198 148h4v4h-4zM370 148h8v4h-8zM282 228h12v4h-12zM298 232h4v4h-4zM298 240h4v4h-4zM282 244h12v4h-12zM230 292h4v4h-4zM302 328h4v4h-4zM210 344h4v4h-4zM278 352h4v4h-4zM286 352h4v4h-4zM350 352h4v4h-4zM222 356h4v4h-4zM294 360h4v4h-4zM298 368h4v4h-4zM334 372h4v4h-4zM242 376h4v4h-4zM194 408h4v4h-4zM270 508h4v4h-4zM298 508h4v4h-4zM270 512h4v4h-4zM298 512h4v4h-4zM254 568h4v4h-4z"/><path fill="#a4a4a4" d="M366 36h4v4h-4zM266 48h4v4h-4zM238 100h4v4h-4zM270 236h4v4h-4zM330 296h4v4h-4zM258 316h4v4h-4zM366 340h4v4h-4zM282 356h8v4h-8zM282 360h8v4h-8zM302 372h4v4h-4zM198 408h4v4h-4zM370 408h8v4h-8zM190 412h4v4h-4zM366 420h4v4h-4zM378 420h4v4h-4zM278 504h4v4h-4zM290 504h4v4h-4zM278 516h4v4h-4zM290 516h4v4h-4zM222 560h4v4h-4zM242 560h4v4h-4z"/><path fill="#a5a5a5" d="M350 24h4v4h-4zM362 32h4v4h-4zM198 40h4v4h-4zM370 40h4v4h-4zM374 44h4v4h-4zM374 48h4v4h-4zM198 52h4v4h-4zM294 64h4v4h-4zM290 72h4v4h-4zM286 80h4v4h-4zM282 88h12v4h-12zM366 136h4v4h-4zM378 136h4v4h-4zM190 140h4v4h-4zM366 144h4v4h-4zM378 144h4v4h-4zM274 232h4v4h-4zM298 236h4v4h-4zM274 240h4v4h-4zM298 336h4v4h-4zM338 368h4v4h-4zM326 376h4v4h-4zM190 416h4v4h-4zM202 420h4v4h-4zM282 504h8v4h-8zM282 516h8v4h-8z"/><path fill="#a6a6a6" d="M282 80h4v4h-4zM286 84h4v4h-4zM342 88h4v4h-4zM202 136h4v4h-4zM202 144h4v4h-4zM294 232h4v4h-4zM294 240h4v4h-4zM318 308h4v4h-4zM366 412h4v4h-4zM378 412h4v4h-4zM274 508h4v4h-4zM294 508h4v4h-4zM274 512h4v4h-4zM294 512h4v4h-4zM346 560h4v4h-4zM214 564h4v4h-4z"/><path fill="#a7a7a7" d="M318 28h4v4h-4zM198 44h4v4h-4zM198 48h4v4h-4zM370 52h4v4h-4zM202 56h4v4h-4zM222 80h4v4h-4zM282 84h4v4h-4zM278 88h4v4h-4zM230 92h4v4h-4zM294 92h4v4h-4zM266 100h4v4h-4zM366 140h4v4h-4zM378 140h4v4h-4zM278 232h4v4h-4zM274 236h4v4h-4zM294 236h4v4h-4zM278 240h4v4h-4zM342 292h4v4h-4zM294 348h4v4h-4zM294 356h4v4h-4zM310 376h4v4h-4zM202 412h4v4h-4zM366 416h4v4h-4zM378 416h4v4h-4zM194 420h4v4h-4zM330 560h4v4h-4zM250 564h4v4h-4z"/><path fill="#a8a8a8" d="M326 24h4v4h-4zM202 40h4v4h-4zM370 44h4v4h-4zM370 48h4v4h-4zM290 76h4v4h-4zM350 76h4v4h-4zM290 84h4v4h-4zM234 96h4v4h-4zM298 96h4v4h-4zM282 232h12v4h-12zM282 240h12v4h-12zM238 296h4v4h-4zM274 344h4v4h-4zM274 360h4v4h-4zM270 368h4v4h-4zM370 420h8v4h-8zM278 508h4v4h-4zM278 512h4v4h-4zM210 568h4v4h-4z"/><path fill="#a9a9a9" d="M278 72h4v4h-4zM330 100h4v4h-4zM194 136h4v4h-4zM370 136h8v4h-8zM202 140h4v4h-4zM194 144h4v4h-4zM370 144h8v4h-8zM278 236h4v4h-4zM290 236h4v4h-4zM226 292h4v4h-4zM322 304h4v4h-4zM294 352h4v4h-4zM266 372h4v4h-4zM202 416h4v4h-4zM198 420h4v4h-4zM282 508h4v4h-4zM290 508h4v4h-4zM282 512h4v4h-4zM290 512h4v4h-4zM226 560h4v4h-4zM238 560h4v4h-4z"/><path fill="#aaaaaa" d="M222 24h4v4h-4zM242 24h4v4h-4zM366 40h4v4h-4zM366 56h4v4h-4zM290 80h4v4h-4zM198 136h4v4h-4zM198 144h4v4h-4zM282 236h8v4h-8zM198 292h4v4h-4zM326 300h4v4h-4zM254 312h4v4h-4zM358 344h4v4h-4zM246 376h4v4h-4zM258 376h4v4h-4zM194 412h4v4h-4zM370 412h8v4h-8zM286 508h4v4h-4zM286 512h4v4h-4zM342 560h4v4h-4z"/><path fill="#ababab" d="M254 32h4v4h-4zM206 36h4v4h-4zM202 44h4v4h-4zM202 52h4v4h-4zM206 60h4v4h-4zM278 84h4v4h-4zM274 92h4v4h-4zM194 140h4v4h-4zM370 292h8v4h-8zM266 328h4v4h-4zM198 412h4v4h-4zM194 416h4v4h-4zM230 560h8v4h-8zM334 560h8v4h-8zM354 564h4v4h-4z"/><path fill="#acacac" d="M346 24h4v4h-4zM214 28h4v4h-4zM250 28h4v4h-4zM310 40h4v4h-4zM202 48h4v4h-4zM270 56h4v4h-4zM274 64h4v4h-4zM198 140h4v4h-4zM370 140h8v4h-8zM194 292h4v4h-4zM346 292h4v4h-4zM306 324h4v4h-4zM270 336h4v4h-4zM274 356h4v4h-4zM322 376h4v4h-4zM198 416h4v4h-4zM370 416h8v4h-8z"/><path fill="#adadad" d="M210 64h4v4h-4zM278 76h4v4h-4zM278 80h4v4h-4zM338 92h4v4h-4zM270 96h4v4h-4zM334 96h4v4h-4zM202 292h4v4h-4zM222 292h4v4h-4zM274 348h4v4h-4zM298 364h4v4h-4zM238 372h4v4h-4zM358 568h4v4h-4z"/><path fill="#aeaeae" d="M330 24h4v4h-4zM210 32h4v4h-4zM262 44h4v4h-4zM366 44h4v4h-4zM366 52h4v4h-4zM294 68h4v4h-4zM306 100h4v4h-4zM366 292h4v4h-4zM250 308h4v4h-4zM206 340h4v4h-4zM298 340h4v4h-4zM346 356h4v4h-4zM226 360h4v4h-4zM314 376h4v4h-4z"/><path fill="#afafaf" d="M226 24h4v4h-4zM238 24h4v4h-4zM366 48h4v4h-4zM302 52h4v4h-4zM214 68h4v4h-4zM294 88h4v4h-4zM350 292h4v4h-4zM334 296h4v4h-4zM242 300h4v4h-4zM274 352h4v4h-4zM250 376h8v4h-8zM318 376h4v4h-4z"/><path fill="#b0b0b0" d="M342 24h4v4h-4zM354 28h4v4h-4zM362 36h4v4h-4zM362 60h4v4h-4zM346 80h4v4h-4zM226 84h4v4h-4zM218 292h4v4h-4zM246 304h4v4h-4zM322 564h4v4h-4z"/><path fill="#b1b1b1" d="M230 24h8v4h-8zM334 24h8v4h-8zM298 60h4v4h-4zM242 100h4v4h-4zM262 100h4v4h-4zM206 292h4v4h-4zM354 292h4v4h-4zM362 292h4v4h-4zM378 292h4v4h-4zM234 368h4v4h-4zM330 372h4v4h-4z"/><path fill="#b2b2b2" d="M206 40h4v4h-4zM210 292h8v4h-8zM358 292h4v4h-4zM234 296h4v4h-4zM310 320h4v4h-4zM302 332h4v4h-4zM230 364h4v4h-4zM306 372h4v4h-4zM218 564h4v4h-4z"/><path fill="#b3b3b3" d="M358 32h4v4h-4zM358 64h4v4h-4zM274 88h4v4h-4zM326 100h4v4h-4zM190 292h4v4h-4zM362 340h4v4h-4zM218 348h4v4h-4zM298 360h4v4h-4zM270 364h4v4h-4zM246 564h4v4h-4z"/><path fill="#b4b4b4" d="M206 56h4v4h-4zM274 68h4v4h-4zM218 72h4v4h-4zM294 84h4v4h-4zM262 324h4v4h-4zM270 340h4v4h-4zM302 368h4v4h-4zM318 568h4v4h-4z"/><path fill="#b5b5b5" d="M322 28h4v4h-4zM258 40h4v4h-4zM294 72h4v4h-4zM230 88h4v4h-4zM310 100h4v4h-4zM298 344h4v4h-4zM342 360h4v4h-4zM350 564h4v4h-4z"/><path fill="#b6b6b6" d="M314 36h4v4h-4zM206 44h4v4h-4zM354 68h4v4h-4zM342 84h4v4h-4zM298 92h4v4h-4zM302 96h4v4h-4zM258 100h4v4h-4zM382 292h4v4h-4zM314 316h4v4h-4zM214 344h4v4h-4zM334 368h4v4h-4zM262 372h4v4h-4z"/><path fill="#b7b7b7" d="M218 28h4v4h-4zM362 40h4v4h-4zM206 52h4v4h-4zM294 76h4v4h-4zM294 80h4v4h-4zM238 96h4v4h-4zM246 100h4v4h-4zM338 296h4v4h-4zM222 352h4v4h-4zM338 364h4v4h-4z"/><path fill="#b8b8b8" d="M246 28h4v4h-4zM318 32h4v4h-4zM206 48h4v4h-4zM266 52h4v4h-4zM362 56h4v4h-4zM270 60h4v4h-4zM274 84h4v4h-4zM234 92h4v4h-4zM322 100h4v4h-4zM330 300h4v4h-4zM258 320h4v4h-4zM266 332h4v4h-4zM198 336h4v4h-4zM370 336h4v4h-4zM298 356h4v4h-4zM266 368h4v4h-4zM242 372h4v4h-4zM326 564h4v4h-4zM214 568h4v4h-4z"/><path fill="#b9b9b9" d="M306 48h4v4h-4zM298 64h4v4h-4zM222 76h4v4h-4zM254 100h4v4h-4zM314 100h4v4h-4zM230 296h4v4h-4zM318 312h4v4h-4zM374 336h4v4h-4zM382 336h4v4h-4zM298 348h4v4h-4zM350 348h4v4h-4zM270 360h4v4h-4zM250 568h4v4h-4z"/><path fill="#bababa" d="M350 28h4v4h-4zM210 36h4v4h-4zM274 72h4v4h-4zM338 88h4v4h-4zM270 92h4v4h-4zM266 96h4v4h-4zM330 96h4v4h-4zM250 100h4v4h-4zM318 100h4v4h-4zM306 328h4v4h-4zM194 336h4v4h-4zM202 336h4v4h-4zM302 336h4v4h-4zM270 344h4v4h-4zM298 352h4v4h-4zM326 372h4v4h-4zM222 564h4v4h-4zM242 564h4v4h-4z"/><path fill="#bbbbbb" d="M254 36h4v4h-4zM362 44h4v4h-4zM362 52h4v4h-4zM210 60h4v4h-4zM350 72h4v4h-4zM274 80h4v4h-4zM238 300h4v4h-4zM326 304h4v4h-4zM322 308h4v4h-4zM190 336h4v4h-4zM378 336h4v4h-4zM354 344h4v4h-4zM310 372h4v4h-4zM346 564h4v4h-4z"/><path fill="#bcbcbc" d="M214 32h4v4h-4zM362 48h4v4h-4zM302 56h4v4h-4zM274 76h4v4h-4zM334 92h4v4h-4zM342 296h4v4h-4zM254 316h4v4h-4zM366 336h4v4h-4zM210 340h4v4h-4zM354 568h4v4h-4z"/><path fill="#bdbdbd" d="M326 28h4v4h-4zM250 32h4v4h-4zM310 44h4v4h-4zM226 80h4v4h-4zM346 352h4v4h-4zM226 356h4v4h-4zM270 356h4v4h-4zM330 564h4v4h-4z"/><path fill="#bebebe" d="M222 28h4v4h-4zM242 28h4v4h-4zM358 36h4v4h-4zM214 64h4v4h-4zM346 76h4v4h-4zM298 88h4v4h-4zM226 296h4v4h-4zM250 312h4v4h-4zM270 348h4v4h-4zM302 364h4v4h-4zM238 368h4v4h-4zM246 372h4v4h-4zM258 372h4v4h-4zM226 564h4v4h-4zM238 564h4v4h-4z"/><path fill="#bfbfbf" d="M354 32h4v4h-4zM262 48h4v4h-4zM358 60h4v4h-4zM270 64h4v4h-4zM298 68h4v4h-4zM198 296h4v4h-4zM374 296h4v4h-4zM242 304h4v4h-4zM246 308h4v4h-4zM262 328h4v4h-4zM266 336h4v4h-4zM358 340h4v4h-4zM270 352h4v4h-4zM334 564h4v4h-4zM342 564h4v4h-4z"/><path fill="#c0c0c0" d="M346 28h4v4h-4zM210 40h4v4h-4zM306 96h4v4h-4zM194 296h4v4h-4zM346 296h4v4h-4zM370 296h4v4h-4zM310 324h4v4h-4zM302 340h4v4h-4zM230 360h4v4h-4zM234 364h4v4h-4zM322 372h4v4h-4zM230 564h8v4h-8zM338 564h4v4h-4z"/><path fill="#c1c1c1" d="M330 28h4v4h-4zM218 68h4v4h-4zM230 84h4v4h-4zM242 96h4v4h-4zM202 296h4v4h-4zM222 296h4v4h-4zM334 300h4v4h-4zM206 336h4v4h-4zM306 368h4v4h-4zM330 368h4v4h-4zM314 372h4v4h-4zM322 568h4v4h-4z"/><path fill="#c2c2c2" d="M226 28h4v4h-4zM314 40h4v4h-4zM210 56h4v4h-4zM266 56h4v4h-4zM354 64h4v4h-4zM342 80h4v4h-4zM270 88h4v4h-4zM262 96h4v4h-4zM366 296h4v4h-4zM342 356h4v4h-4zM266 364h4v4h-4zM250 372h8v4h-8z"/><path fill="#c3c3c3" d="M238 28h4v4h-4zM342 28h4v4h-4zM258 44h4v4h-4zM298 84h4v4h-4zM302 92h4v4h-4zM218 296h4v4h-4zM350 296h4v4h-4zM378 296h4v4h-4zM234 300h4v4h-4zM314 320h4v4h-4zM306 332h4v4h-4zM318 372h4v4h-4zM218 568h4v4h-4z"/><path fill="#c4c4c4" d="M230 28h8v4h-8zM334 28h4v4h-4zM322 32h4v4h-4zM302 60h4v4h-4zM234 88h4v4h-4zM326 96h4v4h-4zM206 296h4v4h-4zM362 336h4v4h-4zM218 344h4v4h-4zM222 348h4v4h-4zM302 360h4v4h-4zM334 364h4v4h-4zM246 568h4v4h-4z"/><path fill="#c5c5c5" d="M338 28h4v4h-4zM318 36h4v4h-4zM358 40h4v4h-4zM210 44h4v4h-4zM306 52h4v4h-4zM270 68h4v4h-4zM298 72h4v4h-4zM338 84h4v4h-4zM238 92h4v4h-4zM190 296h4v4h-4zM214 296h4v4h-4zM354 296h4v4h-4zM362 296h4v4h-4zM258 324h4v4h-4zM338 360h4v4h-4zM262 368h4v4h-4z"/><path fill="#c6c6c6" d="M350 68h4v4h-4zM222 72h4v4h-4zM210 296h4v4h-4zM358 296h4v4h-4zM318 316h4v4h-4zM266 340h4v4h-4zM302 344h4v4h-4zM350 568h4v4h-4z"/><path fill="#c7c7c7" d="M218 32h4v4h-4zM254 40h4v4h-4zM210 48h4v4h-4zM210 52h4v4h-4zM358 56h4v4h-4zM298 80h4v4h-4zM310 96h4v4h-4zM330 304h4v4h-4zM214 340h4v4h-4z"/><path fill="#c8c8c8" d="M246 32h4v4h-4zM214 36h4v4h-4zM298 76h4v4h-4zM270 84h4v4h-4zM266 92h4v4h-4zM382 296h4v4h-4zM254 320h4v4h-4zM350 344h4v4h-4zM242 368h4v4h-4z"/><path fill="#c9c9c9" d="M214 60h4v4h-4zM226 76h4v4h-4zM334 88h4v4h-4zM330 92h4v4h-4zM246 96h4v4h-4zM258 96h4v4h-4zM338 300h4v4h-4zM326 308h4v4h-4zM322 312h4v4h-4zM262 332h4v4h-4zM346 348h4v4h-4zM226 352h4v4h-4zM302 356h4v4h-4z"/><path fill="#cacaca" d="M350 32h4v4h-4zM250 36h4v4h-4zM266 60h4v4h-4zM266 360h4v4h-4zM326 568h4v4h-4z"/><path fill="#cbcbcb" d="M358 44h4v4h-4zM310 48h4v4h-4zM262 52h4v4h-4zM302 64h4v4h-4zM270 72h4v4h-4zM346 72h4v4h-4zM314 96h4v4h-4zM322 96h4v4h-4zM230 300h4v4h-4zM238 304h4v4h-4zM250 316h4v4h-4zM310 328h4v4h-4zM198 332h4v4h-4zM370 332h4v4h-4zM382 332h4v4h-4zM306 336h4v4h-4zM354 340h4v4h-4zM302 348h4v4h-4zM326 368h4v4h-4zM222 568h4v4h-4z"/><path fill="#cccccc" d="M210 336h4v4h-4zM266 344h4v4h-4zM310 368h4v4h-4zM242 568h4v4h-4z"/><path fill="#cdcdcd" d="M354 36h4v4h-4zM358 52h4v4h-4zM218 64h4v4h-4zM230 80h4v4h-4zM270 80h4v4h-4zM250 96h8v4h-8zM242 308h4v4h-4zM246 312h4v4h-4zM202 332h4v4h-4zM374 332h4v4h-4zM302 352h4v4h-4zM238 364h4v4h-4z"/><path fill="#cecece" d="M314 44h4v4h-4zM358 48h4v4h-4zM354 60h4v4h-4zM318 96h4v4h-4zM190 332h8v4h-8zM342 352h4v4h-4zM230 356h4v4h-4zM306 364h4v4h-4zM346 568h4v4h-4z"/><path fill="#cfcfcf" d="M326 32h4v4h-4zM306 56h4v4h-4zM270 76h4v4h-4zM342 76h4v4h-4zM302 88h4v4h-4zM342 300h4v4h-4zM366 332h4v4h-4zM378 332h4v4h-4zM234 360h4v4h-4zM258 368h4v4h-4z"/><path fill="#d0d0d0" d="M222 32h4v4h-4zM258 48h4v4h-4zM234 84h4v4h-4zM314 324h4v4h-4zM258 328h4v4h-4zM358 336h4v4h-4zM266 356h4v4h-4zM330 568h4v4h-4z"/><path fill="#d1d1d1" d="M242 32h4v4h-4zM266 64h4v4h-4zM306 92h4v4h-4zM226 300h4v4h-4zM262 336h4v4h-4zM330 364h4v4h-4zM246 368h4v4h-4zM226 568h4v4h-4z"/><path fill="#d2d2d2" d="M214 40h4v4h-4zM350 64h4v4h-4zM222 68h4v4h-4zM302 68h4v4h-4zM338 80h4v4h-4zM242 92h4v4h-4zM334 304h4v4h-4zM222 344h4v4h-4zM266 348h4v4h-4zM238 568h4v4h-4z"/><path fill="#d3d3d3" d="M346 32h4v4h-4zM318 40h4v4h-4zM254 44h4v4h-4zM198 300h4v4h-4zM374 300h4v4h-4zM318 320h4v4h-4zM218 340h4v4h-4zM306 340h4v4h-4zM266 352h4v4h-4zM338 356h4v4h-4zM334 360h4v4h-4zM262 364h4v4h-4zM322 368h4v4h-4zM342 568h4v4h-4z"/><path fill="#d4d4d4" d="M322 36h4v4h-4zM214 56h4v4h-4zM238 88h4v4h-4zM266 88h4v4h-4zM262 92h4v4h-4zM194 300h4v4h-4zM346 300h4v4h-4zM370 300h4v4h-4zM206 332h4v4h-4zM226 348h4v4h-4zM230 568h8v4h-8zM334 568h8v4h-8z"/><path fill="#d5d5d5" d="M330 32h4v4h-4zM262 56h4v4h-4zM334 84h4v4h-4zM326 92h4v4h-4zM222 300h4v4h-4zM254 324h4v4h-4zM310 332h4v4h-4zM314 368h4v4h-4z"/><path fill="#d6d6d6" d="M226 32h4v4h-4zM238 32h4v4h-4zM226 72h4v4h-4zM302 84h4v4h-4zM202 300h4v4h-4zM366 300h4v4h-4zM378 300h4v4h-4zM234 304h4v4h-4zM322 316h4v4h-4zM362 332h4v4h-4zM346 344h4v4h-4zM250 368h8v4h-8z"/><path fill="#d7d7d7" d="M218 36h4v4h-4zM250 40h4v4h-4zM354 40h4v4h-4zM310 52h4v4h-4zM306 60h4v4h-4zM346 68h4v4h-4zM350 300h4v4h-4zM382 300h4v4h-4zM330 308h4v4h-4zM326 312h4v4h-4zM214 336h4v4h-4zM350 340h4v4h-4zM306 360h4v4h-4zM318 368h4v4h-4z"/><path fill="#d8d8d8" d="M334 32h4v4h-4zM342 32h4v4h-4zM246 36h4v4h-4zM214 44h4v4h-4zM266 68h4v4h-4zM302 72h4v4h-4zM330 88h4v4h-4zM190 300h4v4h-4zM206 300h4v4h-4zM218 300h4v4h-4zM250 320h4v4h-4zM262 340h4v4h-4z"/><path fill="#d9d9d9" d="M230 32h8v4h-8zM338 32h4v4h-4zM354 56h4v4h-4zM218 60h4v4h-4zM230 76h4v4h-4zM214 300h4v4h-4zM354 300h4v4h-4zM362 300h4v4h-4zM306 344h4v4h-4zM342 348h4v4h-4zM230 352h4v4h-4zM242 364h4v4h-4z"/><path fill="#dadada" d="M350 36h4v4h-4zM314 48h4v4h-4zM214 52h4v4h-4zM342 72h4v4h-4zM310 92h4v4h-4zM210 300h4v4h-4zM358 300h4v4h-4zM246 316h4v4h-4zM382 328h4v4h-4zM258 332h4v4h-4z"/><path fill="#dbdbdb" d="M214 48h4v4h-4zM258 52h4v4h-4zM302 80h4v4h-4zM266 84h4v4h-4zM338 304h4v4h-4zM238 308h4v4h-4zM242 312h4v4h-4zM314 328h4v4h-4zM354 336h4v4h-4z"/><path fill="#dcdcdc" d="M262 60h4v4h-4zM302 76h4v4h-4zM234 80h4v4h-4zM246 92h4v4h-4zM258 92h4v4h-4zM210 332h4v4h-4zM234 356h4v4h-4zM238 360h4v4h-4zM262 360h4v4h-4zM310 364h4v4h-4zM326 364h4v4h-4z"/><path fill="#dddddd" d="M318 44h4v4h-4zM354 44h4v4h-4zM350 60h4v4h-4zM222 64h4v4h-4zM306 64h4v4h-4zM266 72h4v4h-4zM230 304h4v4h-4zM382 304h4v4h-4zM310 336h4v4h-4zM306 356h4v4h-4z"/><path fill="#dedede" d="M254 48h4v4h-4zM338 76h4v4h-4zM306 88h4v4h-4zM314 92h4v4h-4zM322 92h4v4h-4zM318 324h4v4h-4zM262 344h4v4h-4zM306 348h4v4h-4zM338 352h4v4h-4z"/><path fill="#dfdfdf" d="M326 36h4v4h-4zM354 52h4v4h-4zM310 56h4v4h-4zM238 84h4v4h-4zM254 92h4v4h-4zM382 308h4v4h-4zM382 324h4v4h-4zM198 328h4v4h-4zM370 328h4v4h-4zM358 332h4v4h-4zM222 340h4v4h-4zM226 344h4v4h-4zM306 352h4v4h-4zM330 360h4v4h-4zM258 364h4v4h-4z"/><path fill="#e0e0e0" d="M222 36h4v4h-4zM322 40h4v4h-4zM354 48h4v4h-4zM226 68h4v4h-4zM266 80h4v4h-4zM334 80h4v4h-4zM242 88h4v4h-4zM250 92h4v4h-4zM318 92h4v4h-4zM382 312h4v4h-4zM382 316h4v4h-4zM382 320h4v4h-4zM190 328h8v4h-8zM202 328h4v4h-4zM254 328h4v4h-4zM366 328h4v4h-4zM374 328h4v4h-4zM334 356h4v4h-4z"/><path fill="#e1e1e1" d="M242 36h4v4h-4zM218 40h4v4h-4zM250 44h4v4h-4zM346 64h4v4h-4zM266 76h4v4h-4zM342 304h4v4h-4zM334 308h4v4h-4zM322 320h4v4h-4zM378 328h4v4h-4zM218 336h4v4h-4zM258 336h4v4h-4zM262 356h4v4h-4zM246 364h4v4h-4z"/><path fill="#e2e2e2" d="M262 64h4v4h-4zM306 68h4v4h-4zM262 88h4v4h-4zM226 304h4v4h-4zM250 324h4v4h-4zM346 340h4v4h-4zM230 348h4v4h-4z"/><path fill="#e3e3e3" d="M346 36h4v4h-4zM246 40h4v4h-4zM218 56h4v4h-4zM258 56h4v4h-4zM230 72h4v4h-4zM330 84h4v4h-4zM326 88h4v4h-4zM330 312h4v4h-4zM326 316h4v4h-4zM206 328h4v4h-4zM314 332h4v4h-4zM310 340h4v4h-4zM342 344h4v4h-4zM262 348h4v4h-4zM322 364h4v4h-4z"/><path fill="#e4e4e4" d="M314 52h4v4h-4zM342 68h4v4h-4zM190 304h12v4h-12zM346 304h4v4h-4zM374 304h4v4h-4zM234 308h4v4h-4zM246 320h4v4h-4zM214 332h4v4h-4zM350 336h4v4h-4zM262 352h4v4h-4zM314 364h4v4h-4z"/><path fill="#e5e5e5" d="M330 36h4v4h-4zM350 40h4v4h-4zM310 60h4v4h-4zM306 84h4v4h-4zM222 304h4v4h-4zM370 304h4v4h-4zM378 304h4v4h-4zM362 328h4v4h-4zM242 360h4v4h-4zM310 360h4v4h-4zM254 364h4v4h-4z"/><path fill="#e6e6e6" d="M226 36h4v4h-4zM238 36h4v4h-4zM318 48h4v4h-4zM350 56h4v4h-4zM222 60h4v4h-4zM262 68h4v4h-4zM338 72h4v4h-4zM234 76h4v4h-4zM202 304h4v4h-4zM366 304h4v4h-4zM238 312h4v4h-4zM242 316h4v4h-4zM338 348h4v4h-4zM234 352h4v4h-4zM250 364h4v4h-4z"/><path fill="#e7e7e7" d="M342 36h4v4h-4zM218 44h4v4h-4zM254 52h4v4h-4zM306 72h4v4h-4zM310 88h4v4h-4zM206 304h4v4h-4zM218 304h4v4h-4zM350 304h4v4h-4zM318 328h4v4h-4zM254 332h4v4h-4zM354 332h4v4h-4zM258 340h4v4h-4zM310 344h4v4h-4zM238 356h4v4h-4zM318 364h4v4h-4z"/><path fill="#e8e8e8" d="M230 36h8v4h-8zM334 36h8v4h-8zM218 52h4v4h-4zM226 64h4v4h-4zM238 80h4v4h-4zM246 88h4v4h-4zM214 304h4v4h-4zM354 304h4v4h-4zM362 304h4v4h-4zM190 308h4v4h-4zM338 308h4v4h-4zM190 324h4v4h-4zM210 328h4v4h-4zM326 360h4v4h-4z"/><path fill="#e9e9e9" d="M322 44h4v4h-4zM218 48h4v4h-4zM250 48h4v4h-4zM258 60h4v4h-4zM346 60h4v4h-4zM334 76h4v4h-4zM306 80h4v4h-4zM242 84h4v4h-4zM262 84h4v4h-4zM258 88h4v4h-4zM210 304h4v4h-4zM358 304h4v4h-4zM322 324h4v4h-4zM222 336h4v4h-4zM314 336h4v4h-4zM226 340h4v4h-4zM334 352h4v4h-4zM330 356h4v4h-4zM258 360h4v4h-4z"/><path fill="#eaeaea" d="M326 40h4v4h-4zM350 44h4v4h-4zM310 64h4v4h-4zM262 72h4v4h-4zM306 76h4v4h-4zM330 80h4v4h-4zM322 88h4v4h-4zM230 308h4v4h-4zM190 312h4v4h-4zM190 320h4v4h-4zM378 324h4v4h-4zM250 328h4v4h-4zM358 328h4v4h-4zM230 344h4v4h-4zM310 356h4v4h-4z"/><path fill="#ebebeb" d="M222 40h4v4h-4zM246 44h4v4h-4zM314 56h4v4h-4zM342 64h4v4h-4zM230 68h4v4h-4zM314 88h4v4h-4zM378 308h4v4h-4zM334 312h4v4h-4zM190 316h4v4h-4zM326 320h4v4h-4zM342 340h4v4h-4zM258 344h4v4h-4zM310 348h4v4h-4z"/><path fill="#ececec" d="M242 40h4v4h-4zM350 52h4v4h-4zM262 80h4v4h-4zM326 84h4v4h-4zM250 88h8v4h-8zM342 308h4v4h-4zM330 316h4v4h-4zM194 324h12v4h-12zM246 324h4v4h-4zM370 324h8v4h-8zM218 332h4v4h-4zM254 336h4v4h-4zM346 336h4v4h-4zM234 348h4v4h-4zM310 352h4v4h-4zM246 360h4v4h-4z"/><path fill="#ededed" d="M346 40h4v4h-4zM350 48h4v4h-4zM318 52h4v4h-4zM222 56h4v4h-4zM258 64h4v4h-4zM338 68h4v4h-4zM234 72h4v4h-4zM262 76h4v4h-4zM318 88h4v4h-4zM234 312h4v4h-4zM378 312h4v4h-4zM378 316h4v4h-4zM242 320h4v4h-4zM378 320h4v4h-4zM366 324h4v4h-4zM338 344h4v4h-4zM258 356h4v4h-4z"/><path fill="#eeeeee" d="M254 56h4v4h-4zM310 68h4v4h-4zM238 76h4v4h-4zM226 308h4v4h-4zM238 316h4v4h-4zM206 324h4v4h-4zM214 328h4v4h-4zM318 332h4v4h-4zM350 332h4v4h-4zM314 340h4v4h-4zM258 348h4v4h-4zM238 352h4v4h-4zM242 356h4v4h-4zM314 360h4v4h-4zM322 360h4v4h-4z"/><path fill="#efefef" d="M330 40h4v4h-4zM322 48h4v4h-4zM346 56h4v4h-4zM226 60h4v4h-4zM314 60h4v4h-4zM334 72h4v4h-4zM310 84h4v4h-4zM194 308h4v4h-4zM346 308h4v4h-4zM374 308h4v4h-4zM362 324h4v4h-4zM334 348h4v4h-4zM258 352h4v4h-4zM254 360h4v4h-4z"/><path fill="#f0f0f0" d="M226 40h4v4h-4zM238 40h4v4h-4zM250 52h4v4h-4zM258 68h4v4h-4zM242 80h4v4h-4zM246 84h4v4h-4zM198 308h4v4h-4zM222 308h4v4h-4zM370 308h4v4h-4zM322 328h4v4h-4zM354 328h4v4h-4zM250 332h4v4h-4zM226 336h4v4h-4zM230 340h4v4h-4zM254 340h4v4h-4zM330 352h4v4h-4zM326 356h4v4h-4zM250 360h4v4h-4z"/><path fill="#f1f1f1" d="M342 40h4v4h-4zM222 44h4v4h-4zM326 44h4v4h-4zM246 48h4v4h-4zM342 60h4v4h-4zM230 64h4v4h-4zM310 72h4v4h-4zM330 76h4v4h-4zM258 84h4v4h-4zM202 308h4v4h-4zM350 308h4v4h-4zM366 308h4v4h-4zM338 312h4v4h-4zM210 324h4v4h-4zM326 324h4v4h-4zM222 332h4v4h-4zM314 344h4v4h-4zM318 360h4v4h-4z"/><path fill="#f2f2f2" d="M230 40h8v4h-8zM334 40h8v4h-8zM242 44h4v4h-4zM222 52h4v4h-4zM254 60h4v4h-4zM234 68h4v4h-4zM310 80h4v4h-4zM326 80h4v4h-4zM322 84h4v4h-4zM206 308h4v4h-4zM214 308h8v4h-8zM354 308h4v4h-4zM362 308h4v4h-4zM230 312h4v4h-4zM334 316h4v4h-4zM330 320h4v4h-4zM246 328h4v4h-4zM318 336h4v4h-4zM342 336h4v4h-4zM338 340h4v4h-4zM234 344h4v4h-4z"/><path fill="#f3f3f3" d="M346 44h4v4h-4zM222 48h4v4h-4zM318 56h4v4h-4zM314 64h4v4h-4zM338 64h4v4h-4zM258 72h4v4h-4zM310 76h4v4h-4zM210 308h4v4h-4zM358 308h4v4h-4zM194 312h4v4h-4zM194 320h4v4h-4zM374 320h4v4h-4zM242 324h4v4h-4zM358 324h4v4h-4zM218 328h4v4h-4zM346 332h4v4h-4zM254 344h4v4h-4zM246 356h4v4h-4zM314 356h4v4h-4z"/><path fill="#f4f4f4" d="M322 52h4v4h-4zM346 52h4v4h-4zM226 56h4v4h-4zM334 68h4v4h-4zM238 72h4v4h-4zM314 84h4v4h-4zM342 312h4v4h-4zM374 312h4v4h-4zM194 316h4v4h-4zM234 316h4v4h-4zM238 320h4v4h-4zM350 328h4v4h-4zM250 336h4v4h-4zM334 344h4v4h-4zM238 348h4v4h-4zM314 348h4v4h-4zM242 352h4v4h-4z"/><path fill="#f5f5f5" d="M326 48h4v4h-4zM346 48h4v4h-4zM250 56h4v4h-4zM230 60h4v4h-4zM254 64h4v4h-4zM314 68h4v4h-4zM330 72h4v4h-4zM242 76h4v4h-4zM258 76h4v4h-4zM258 80h4v4h-4zM250 84h8v4h-8zM318 84h4v4h-4zM226 312h4v4h-4zM374 316h4v4h-4zM198 320h8v4h-8zM366 320h8v4h-8zM214 324h4v4h-4zM322 332h4v4h-4zM230 336h4v4h-4zM318 340h4v4h-4zM330 348h4v4h-4zM314 352h4v4h-4zM254 356h4v4h-4zM322 356h4v4h-4z"/><path fill="#f6f6f6" d="M226 44h4v4h-4zM330 44h4v4h-4zM246 52h4v4h-4zM342 56h4v4h-4zM318 60h4v4h-4zM246 80h4v4h-4zM206 320h4v4h-4zM354 324h4v4h-4zM326 328h4v4h-4zM226 332h4v4h-4zM246 332h4v4h-4zM234 340h4v4h-4zM254 348h4v4h-4zM326 352h4v4h-4z"/><path fill="#f7f7f7" d="M238 44h4v4h-4zM342 44h4v4h-4zM242 48h4v4h-4zM338 60h4v4h-4zM234 64h4v4h-4zM254 68h4v4h-4zM326 76h4v4h-4zM322 80h4v4h-4zM198 312h4v4h-4zM222 312h4v4h-4zM346 312h4v4h-4zM370 312h4v4h-4zM338 316h4v4h-4zM334 320h4v4h-4zM362 320h4v4h-4zM330 324h4v4h-4zM222 328h4v4h-4zM242 328h4v4h-4zM342 332h4v4h-4zM338 336h4v4h-4zM250 340h4v4h-4zM238 344h4v4h-4zM254 352h4v4h-4zM250 356h4v4h-4zM318 356h4v4h-4z"/><path fill="#f8f8f8" d="M334 44h4v4h-4zM226 52h4v4h-4zM322 56h4v4h-4zM250 60h4v4h-4zM334 64h4v4h-4zM238 68h4v4h-4zM314 72h4v4h-4zM314 80h4v4h-4zM202 312h4v4h-4zM350 312h4v4h-4zM366 312h4v4h-4zM230 316h4v4h-4zM210 320h4v4h-4zM234 320h4v4h-4zM218 324h4v4h-4zM238 324h4v4h-4zM346 328h4v4h-4zM322 336h4v4h-4zM334 340h4v4h-4zM318 344h4v4h-4z"/><path fill="#f9f9f9" d="M230 44h8v4h-8zM338 44h4v4h-4zM226 48h4v4h-4zM326 52h4v4h-4zM342 52h4v4h-4zM230 56h4v4h-4zM246 56h4v4h-4zM318 64h4v4h-4zM330 68h4v4h-4zM242 72h4v4h-4zM254 72h4v4h-4zM314 76h4v4h-4zM206 312h16v4h-16zM354 312h12v4h-12zM198 316h4v4h-4zM370 316h4v4h-4zM358 320h4v4h-4zM350 324h4v4h-4zM326 332h4v4h-4zM246 336h4v4h-4zM250 344h4v4h-4zM330 344h4v4h-4zM242 348h4v4h-4zM246 352h4v4h-4z"/><path fill="#fafafa" d="M330 48h4v4h-4zM342 48h4v4h-4zM242 52h4v4h-4zM338 56h4v4h-4zM234 60h4v4h-4zM250 64h4v4h-4zM326 72h4v4h-4zM246 76h4v4h-4zM250 80h8v4h-8zM318 80h4v4h-4zM202 316h4v4h-4zM342 316h4v4h-4zM366 316h4v4h-4zM214 320h4v4h-4zM226 328h4v4h-4zM330 328h4v4h-4zM230 332h4v4h-4zM234 336h4v4h-4zM318 348h4v4h-4zM326 348h4v4h-4zM250 352h4v4h-4zM318 352h8v4h-8z"/><path fill="#fbfbfb" d="M238 48h4v4h-4zM322 60h4v4h-4zM334 60h4v4h-4zM238 64h4v4h-4zM318 68h4v4h-4zM254 76h4v4h-4zM322 76h4v4h-4zM206 316h4v4h-4zM226 316h4v4h-4zM362 316h4v4h-4zM338 320h4v4h-4zM354 320h4v4h-4zM222 324h4v4h-4zM334 324h4v4h-4zM238 328h4v4h-4zM342 328h4v4h-4zM242 332h4v4h-4zM338 332h4v4h-4zM334 336h4v4h-4zM238 340h4v4h-4zM322 340h4v4h-4zM250 348h4v4h-4z"/><path fill="#fcfcfc" d="M230 48h4v4h-4zM230 52h4v4h-4zM326 56h4v4h-4zM246 60h4v4h-4zM330 64h4v4h-4zM242 68h4v4h-4zM250 68h4v4h-4zM246 72h4v4h-4zM318 72h4v4h-4zM210 316h8v4h-8zM222 316h4v4h-4zM346 316h4v4h-4zM358 316h4v4h-4zM218 320h4v4h-4zM230 320h4v4h-4zM234 324h4v4h-4zM346 324h4v4h-4zM326 336h4v4h-4zM246 340h4v4h-4zM330 340h4v4h-4zM242 344h4v4h-4zM322 344h4v4h-4zM246 348h4v4h-4zM322 348h4v4h-4z"/><path fill="#fdfdfd" d="M234 48h4v4h-4zM334 48h8v4h-8zM330 52h4v4h-4zM338 52h4v4h-4zM234 56h4v4h-4zM242 56h4v4h-4zM238 60h4v4h-4zM322 64h4v4h-4zM326 68h4v4h-4zM250 72h4v4h-4zM322 72h4v4h-4zM250 76h4v4h-4zM318 76h4v4h-4zM218 316h4v4h-4zM350 316h8v4h-8zM342 320h4v4h-4zM350 320h4v4h-4zM230 328h4v4h-4zM334 328h4v4h-4zM234 332h8v4h-8zM330 332h8v4h-8zM238 336h8v4h-8zM330 336h4v4h-4zM242 340h4v4h-4zM326 340h4v4h-4zM246 344h4v4h-4zM326 344h4v4h-4z"/><path fill="#fefefe" d="M234 52h8v4h-8zM330 56h8v4h-8zM326 60h8v4h-8zM242 64h8v4h-8zM326 64h4v4h-4zM246 68h4v4h-4zM322 68h4v4h-4zM222 320h8v4h-8zM346 320h4v4h-4zM226 324h8v4h-8zM338 324h8v4h-8zM234 328h4v4h-4zM338 328h4v4h-4z"/><path fill="#ffffff" d="M334 52h4v4h-4zM238 56h4v4h-4zM242 60h4v4h-4z"/></g></g>
<rect x="197.8" y="32.5" width="1.2" height="530" fill="#000" fill-opacity="0.3"/>
<text transform="translate(11.42,56.29) scale(1.019,1)" font-size="33.14">(a)</text>
<text x="425.12" y="56.20" font-size="33.58">(b)</text>
<text transform="translate(128.53,40.70) scale(0.689,1)" font-size="44.08">1</text>
<text transform="translate(124.42,585.98) scale(1.027,1)" font-size="42.98">0</text>
<text transform="translate(240.64,601.53) scale(1.078,1)" font-size="35.07">(100)</text>
<text transform="translate(273.09,311.97) scale(1.042,1)" font-size="43.64" style="fill:#fff">B</text>
<text transform="translate(204.52,391.18) scale(1.070,1)" font-size="42.72">C</text>
<text transform="translate(340.33,389.19) scale(1.074,1)" font-size="42.42">C</text>
<text transform="translate(763.00,598.61) scale(1.031,1)" font-size="26.82">Frequency (THz)</text>
<text x="504.61" y="527.93" font-size="26.40">0.0</text>
<text x="505.06" y="461.79" font-size="26.40">0.2</text>
<text x="504.02" y="395.65" font-size="26.40">0.4</text>
<text x="504.39" y="329.51" font-size="26.40">0.6</text>
<text x="504.61" y="263.37" font-size="26.40">0.8</text>
<text x="504.61" y="197.23" font-size="26.40">1.0</text>
<text x="505.06" y="131.09" font-size="26.40">1.2</text>
<text transform="translate(505.05,64.95) scale(0.968,1)" font-size="26.40">1.4</text>
<text x="541.85" y="552.3" font-size="27">0</text>
<text x="648.16" y="552.3" font-size="27">10</text>
<text x="761.78" y="552.3" font-size="27">20</text>
<text x="874.76" y="552.3" font-size="27">30</text>
<text x="988.17" y="552.3" font-size="27">40</text>
<text x="1100.68" y="552.3" font-size="27">50</text>
<text transform="translate(646.16,120.70) scale(1.245,1)" font-size="30.33">α</text>
<text transform="translate(666.78,107.90) scale(0.923,1)" font-size="15.41">2</text>
<text x="674.63" y="121.00" font-size="26.57">F</text>
<text transform="translate(646.71,164.10) scale(1.127,1)" font-size="29.97">λ</text>
<text transform="translate(1009.66,105.10) scale(1.158,1)" font-size="30.68" style="fill:#d01414">λ</text>
<text transform="translate(1026.94,102.52) scale(1.433,1)" font-size="20.40" style="fill:#d01414">=</text>
<text x="1044.71" y="104.63" font-size="26.17" style="fill:#d01414">1.27</text>
<g transform="translate(459.1,334.7) rotate(-90)"><text transform="translate(-1.05,-0.65) scale(1.483,1)" font-size="25.76">α</text><text transform="translate(18.61,-16.80) scale(1.544,1)" font-size="11.63">2</text><text transform="translate(28.42,-0.40) scale(0.974,1)" font-size="27.80">F</text></g>
<polyline points="548.5,520.3 572.7,520.3 577.7,515.5 584.0,494.6 590.3,480.7 597.9,466.9 602.6,453.3 619.5,264.0 625.8,270.6 627.0,300.0 631.0,368.0 636.8,403.3 643.2,424.1 649.5,428.4 655.0,417.3 662.0,435.4 668.3,443.7 673.4,443.7 683.4,434.2 690.9,424.9 697.5,447.3 703.1,466.0 709.6,477.2 715.2,479.1 720.8,483.7 728.3,490.3 734.8,496.8 742.3,501.1 747.9,501.9 753.5,501.1 759.1,498.7 769.4,496.8 776.8,501.1 781.5,501.1 787.1,497.4 793.6,496.8 800.2,501.5 805.8,503.9 812.3,500.6 817.9,501.1 823.5,505.6 829.1,502.4 835.6,503.9 845.0,503.4 853.4,498.1 859.0,501.9 865.5,509.9 871.1,507.1 877.7,509.0 883.3,508.0 889.8,501.5 895.4,498.1 902.0,498.9 908.5,497.8 919.7,495.9 925.3,492.2 930.9,494.0 936.5,480.0 943.0,450.1 949.6,439.5 955.2,489.4 960.8,490.3 967.3,495.9 972.9,502.4 978.5,498.7 984.1,501.1 990.6,507.1 996.0,505.4 1002.0,497.5 1008.8,456.9 1014.9,455.2 1021.0,493.8 1027.1,498.5 1033.2,493.0 1038.7,460.9 1044.7,457.3 1051.2,471.5 1056.9,444.7 1063.0,430.5 1069.1,456.9 1075.2,443.7 1080.9,308.9 1086.8,367.0 1098.9,207.5 1104.3,380.4 1116.8,437.6 1122.9,367.0 1127.0,410.0 1140.2,520.5" fill="none" stroke="#0e7575" stroke-width="3.2" stroke-linejoin="round"/>
<polyline points="548.5,520.3 572.0,520.3 577.7,516.0 585.3,504.7 595.3,480.7 605.4,453.0 612.4,418.9 616.3,393.6 618.8,374.5 620.8,362.0 622.2,349.1 624.7,336.6 627.4,323.8 631.3,310.7 633.3,304.3 639.0,291.6 645.4,279.0 652.2,266.3 659.8,253.6 669.2,241.1 679.4,228.1 689.2,215.5 694.7,209.2 701.2,203.8 707.4,200.1 713.8,196.5 720.2,193.8 726.5,191.1 732.9,189.4 745.5,186.7 758.2,184.1 771.1,181.4 783.7,179.0 796.4,176.5 815.4,173.9 840.9,170.6 866.3,168.0 891.8,165.5 917.2,162.4 930.0,160.7 942.7,157.3 949.5,154.8 955.4,153.6 968.1,151.9 980.8,150.5 993.5,149.2 1007.0,147.2 1019.7,145.0 1032.3,142.8 1045.0,140.3 1057.6,137.0 1070.3,133.7 1082.1,126.4 1089.7,121.4 1095.6,115.4 1101.5,110.7 1107.7,107.7 1114.1,105.3 1120.5,102.7 1126.8,100.3 1133.1,99.2 1139.5,99.2" fill="none" stroke="#cc0000" stroke-width="3.1" stroke-linecap="round" stroke-dasharray="0 6.6405"/>
<path d="M548.2,58H1170V520.8H548.2Z" fill="none" stroke="#000" stroke-width="2"/>
<path d="M604.6,521v-5M604.6,58v5M661.1,521v-9M661.1,58v9M717.6,521v-5M717.6,58v5M774.2,521v-9M774.2,58v9M830.7,521v-5M830.7,58v5M887.2,521v-9M887.2,58v9M943.7,521v-5M943.7,58v5M1000.2,521v-9M1000.2,58v9M1056.7,521v-5M1056.7,58v5M1113.2,521v-9M1113.2,58v9M548.2,487.7h5M1170,487.7h-5M548.2,454.7h9M1170,454.7h-9M548.2,421.6h5M1170,421.6h-5M548.2,388.5h9M1170,388.5h-9M548.2,355.4h5M1170,355.4h-5M548.2,322.4h9M1170,322.4h-9M548.2,289.3h5M1170,289.3h-5M548.2,256.2h9M1170,256.2h-9M548.2,223.2h5M1170,223.2h-5M548.2,190.1h9M1170,190.1h-9M548.2,157.0h5M1170,157.0h-5M548.2,124.0h9M1170,124.0h-9M548.2,90.9h5M1170,90.9h-5" stroke="#000" stroke-width="2" fill="none"/>
<path d="M590,113.5H640" stroke="#0e7575" stroke-width="3.4" stroke-linecap="round"/>
<path d="M589.8,157.9H636.6" stroke="#cc0000" stroke-width="3.1" stroke-linecap="round" stroke-dasharray="0 6.686"/>
</svg>
</body></html>
